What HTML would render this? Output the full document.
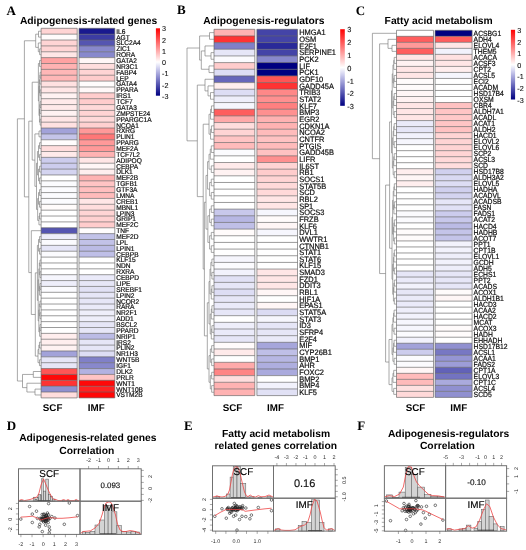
<!DOCTYPE html><html><head><meta charset="utf-8"><style>html,body{margin:0;padding:0;background:#fff;overflow:hidden}svg{display:block;will-change:transform}</style></head><body><svg width="526" height="550" viewBox="0 0 526 550" font-family="'Liberation Sans', sans-serif" text-rendering="geometricPrecision">
<rect width="526" height="550" fill="#fff"/>
<rect x="41.10" y="28.30" width="36.10" height="5.867" fill="#ffd4d4"/>
<rect x="79.00" y="28.30" width="35.80" height="5.867" fill="#19198f"/>
<rect x="41.10" y="34.17" width="36.10" height="5.867" fill="#fffbfb"/>
<rect x="79.00" y="34.17" width="35.80" height="5.867" fill="#3c3ca3"/>
<rect x="41.10" y="40.03" width="36.10" height="5.867" fill="#ffd4d4"/>
<rect x="79.00" y="40.03" width="35.80" height="5.867" fill="#5555b1"/>
<rect x="41.10" y="45.90" width="36.10" height="5.867" fill="#ffd4d4"/>
<rect x="79.00" y="45.90" width="35.80" height="5.867" fill="#8888cc"/>
<rect x="41.10" y="51.77" width="36.10" height="5.867" fill="#ffe6e6"/>
<rect x="79.00" y="51.77" width="35.80" height="5.867" fill="#8888cc"/>
<rect x="41.10" y="57.63" width="36.10" height="5.867" fill="#ffa2a2"/>
<rect x="79.00" y="57.63" width="35.80" height="5.867" fill="#fff6f6"/>
<rect x="41.10" y="63.50" width="36.10" height="5.867" fill="#ffb2b2"/>
<rect x="79.00" y="63.50" width="35.80" height="5.867" fill="#ffdddd"/>
<rect x="41.10" y="69.37" width="36.10" height="5.867" fill="#ffb7b7"/>
<rect x="79.00" y="69.37" width="35.80" height="5.867" fill="#ffd4d4"/>
<rect x="41.10" y="75.23" width="36.10" height="5.867" fill="#ffb7b7"/>
<rect x="79.00" y="75.23" width="35.80" height="5.867" fill="#ffcccc"/>
<rect x="41.10" y="81.10" width="36.10" height="5.867" fill="#ffe1e1"/>
<rect x="79.00" y="81.10" width="35.80" height="5.867" fill="#fffcfc"/>
<rect x="41.10" y="86.97" width="36.10" height="5.867" fill="#ffe6e6"/>
<rect x="79.00" y="86.97" width="35.80" height="5.867" fill="#fff8f8"/>
<rect x="41.10" y="92.83" width="36.10" height="5.867" fill="#fff2f2"/>
<rect x="79.00" y="92.83" width="35.80" height="5.867" fill="#ffcccc"/>
<rect x="41.10" y="98.70" width="36.10" height="5.867" fill="#ffeaea"/>
<rect x="79.00" y="98.70" width="35.80" height="5.867" fill="#ffcccc"/>
<rect x="41.10" y="104.57" width="36.10" height="5.867" fill="#ffeaea"/>
<rect x="79.00" y="104.57" width="35.80" height="5.867" fill="#ffd9d9"/>
<rect x="41.10" y="110.43" width="36.10" height="5.867" fill="#fff2f2"/>
<rect x="79.00" y="110.43" width="35.80" height="5.867" fill="#ffd4d4"/>
<rect x="41.10" y="116.30" width="36.10" height="5.867" fill="#ffe6e6"/>
<rect x="79.00" y="116.30" width="35.80" height="5.867" fill="#ffd9d9"/>
<rect x="41.10" y="122.17" width="36.10" height="5.867" fill="#ffe1e1"/>
<rect x="79.00" y="122.17" width="35.80" height="5.867" fill="#ffd0d0"/>
<rect x="41.10" y="128.03" width="36.10" height="5.867" fill="#a2a2d9"/>
<rect x="79.00" y="128.03" width="35.80" height="5.867" fill="#ff9999"/>
<rect x="41.10" y="133.90" width="36.10" height="5.867" fill="#c4c4e9"/>
<rect x="79.00" y="133.90" width="35.80" height="5.867" fill="#ff7777"/>
<rect x="41.10" y="139.77" width="36.10" height="5.867" fill="#fffdfd"/>
<rect x="79.00" y="139.77" width="35.80" height="5.867" fill="#ff9999"/>
<rect x="41.10" y="145.63" width="36.10" height="5.867" fill="#ffdddd"/>
<rect x="79.00" y="145.63" width="35.80" height="5.867" fill="#ff9999"/>
<rect x="41.10" y="151.50" width="36.10" height="5.867" fill="#ffeaea"/>
<rect x="79.00" y="151.50" width="35.80" height="5.867" fill="#ffb2b2"/>
<rect x="41.10" y="157.37" width="36.10" height="5.867" fill="#cccced"/>
<rect x="79.00" y="157.37" width="35.80" height="5.867" fill="#ffe6e6"/>
<rect x="41.10" y="163.23" width="36.10" height="5.867" fill="#cccced"/>
<rect x="79.00" y="163.23" width="35.80" height="5.867" fill="#fff6f6"/>
<rect x="41.10" y="169.10" width="36.10" height="5.867" fill="#d4d4f0"/>
<rect x="79.00" y="169.10" width="35.80" height="5.867" fill="#ffeeee"/>
<rect x="41.10" y="174.97" width="36.10" height="5.867" fill="#ffffff"/>
<rect x="79.00" y="174.97" width="35.80" height="5.867" fill="#ffb2b2"/>
<rect x="41.10" y="180.83" width="36.10" height="5.867" fill="#fbfbfe"/>
<rect x="79.00" y="180.83" width="35.80" height="5.867" fill="#ffc4c4"/>
<rect x="41.10" y="186.70" width="36.10" height="5.867" fill="#fbfbfe"/>
<rect x="79.00" y="186.70" width="35.80" height="5.867" fill="#ffbfbf"/>
<rect x="41.10" y="192.57" width="36.10" height="5.867" fill="#fbfbfe"/>
<rect x="79.00" y="192.57" width="35.80" height="5.867" fill="#ffbbbb"/>
<rect x="41.10" y="198.43" width="36.10" height="5.867" fill="#fbfbfe"/>
<rect x="79.00" y="198.43" width="35.80" height="5.867" fill="#ffe6e6"/>
<rect x="41.10" y="204.30" width="36.10" height="5.867" fill="#fffbfb"/>
<rect x="79.00" y="204.30" width="35.80" height="5.867" fill="#ffdddd"/>
<rect x="41.10" y="210.17" width="36.10" height="5.867" fill="#ffffff"/>
<rect x="79.00" y="210.17" width="35.80" height="5.867" fill="#ffd4d4"/>
<rect x="41.10" y="216.03" width="36.10" height="5.867" fill="#ffffff"/>
<rect x="79.00" y="216.03" width="35.80" height="5.867" fill="#ffd0d0"/>
<rect x="41.10" y="221.90" width="36.10" height="5.867" fill="#ffffff"/>
<rect x="79.00" y="221.90" width="35.80" height="5.867" fill="#ffcccc"/>
<rect x="41.10" y="227.77" width="36.10" height="5.867" fill="#5555b1"/>
<rect x="79.00" y="227.77" width="35.80" height="5.867" fill="#fffdfd"/>
<rect x="41.10" y="233.63" width="36.10" height="5.867" fill="#eeeefa"/>
<rect x="79.00" y="233.63" width="35.80" height="5.867" fill="#c2c2e8"/>
<rect x="41.10" y="239.50" width="36.10" height="5.867" fill="#fbfbfe"/>
<rect x="79.00" y="239.50" width="35.80" height="5.867" fill="#c2c2e8"/>
<rect x="41.10" y="245.37" width="36.10" height="5.867" fill="#e6e6f7"/>
<rect x="79.00" y="245.37" width="35.80" height="5.867" fill="#bbbbe5"/>
<rect x="41.10" y="251.23" width="36.10" height="5.867" fill="#fbfbfe"/>
<rect x="79.00" y="251.23" width="35.80" height="5.867" fill="#bfbfe7"/>
<rect x="41.10" y="257.10" width="36.10" height="5.867" fill="#ffffff"/>
<rect x="79.00" y="257.10" width="35.80" height="5.867" fill="#ffffff"/>
<rect x="41.10" y="262.97" width="36.10" height="5.867" fill="#ffffff"/>
<rect x="79.00" y="262.97" width="35.80" height="5.867" fill="#ffffff"/>
<rect x="41.10" y="268.83" width="36.10" height="5.867" fill="#ffffff"/>
<rect x="79.00" y="268.83" width="35.80" height="5.867" fill="#ffffff"/>
<rect x="41.10" y="274.70" width="36.10" height="5.867" fill="#f6f6fd"/>
<rect x="79.00" y="274.70" width="35.80" height="5.867" fill="#eaeaf9"/>
<rect x="41.10" y="280.57" width="36.10" height="5.867" fill="#eeeefa"/>
<rect x="79.00" y="280.57" width="35.80" height="5.867" fill="#e6e6f7"/>
<rect x="41.10" y="286.43" width="36.10" height="5.867" fill="#fbfbfe"/>
<rect x="79.00" y="286.43" width="35.80" height="5.867" fill="#e1e1f5"/>
<rect x="41.10" y="292.30" width="36.10" height="5.867" fill="#ffffff"/>
<rect x="79.00" y="292.30" width="35.80" height="5.867" fill="#e6e6f7"/>
<rect x="41.10" y="298.17" width="36.10" height="5.867" fill="#ffffff"/>
<rect x="79.00" y="298.17" width="35.80" height="5.867" fill="#e6e6f7"/>
<rect x="41.10" y="304.03" width="36.10" height="5.867" fill="#ffffff"/>
<rect x="79.00" y="304.03" width="35.80" height="5.867" fill="#eaeaf9"/>
<rect x="41.10" y="309.90" width="36.10" height="5.867" fill="#ffffff"/>
<rect x="79.00" y="309.90" width="35.80" height="5.867" fill="#eeeefa"/>
<rect x="41.10" y="315.77" width="36.10" height="5.867" fill="#ffffff"/>
<rect x="79.00" y="315.77" width="35.80" height="5.867" fill="#eeeefa"/>
<rect x="41.10" y="321.63" width="36.10" height="5.867" fill="#ffffff"/>
<rect x="79.00" y="321.63" width="35.80" height="5.867" fill="#e6e6f7"/>
<rect x="41.10" y="327.50" width="36.10" height="5.867" fill="#ffffff"/>
<rect x="79.00" y="327.50" width="35.80" height="5.867" fill="#e6e6f7"/>
<rect x="41.10" y="333.37" width="36.10" height="5.867" fill="#ffeeee"/>
<rect x="79.00" y="333.37" width="35.80" height="5.867" fill="#bbbbe5"/>
<rect x="41.10" y="339.23" width="36.10" height="5.867" fill="#ffeeee"/>
<rect x="79.00" y="339.23" width="35.80" height="5.867" fill="#e6e6f7"/>
<rect x="41.10" y="345.10" width="36.10" height="5.867" fill="#fff2f2"/>
<rect x="79.00" y="345.10" width="35.80" height="5.867" fill="#e6e6f7"/>
<rect x="41.10" y="350.97" width="36.10" height="5.867" fill="#a2a2d9"/>
<rect x="79.00" y="350.97" width="35.80" height="5.867" fill="#ddddf4"/>
<rect x="41.10" y="356.83" width="36.10" height="5.867" fill="#e6e6f7"/>
<rect x="79.00" y="356.83" width="35.80" height="5.867" fill="#8080c8"/>
<rect x="41.10" y="362.70" width="36.10" height="5.867" fill="#e6e6f7"/>
<rect x="79.00" y="362.70" width="35.80" height="5.867" fill="#8888cc"/>
<rect x="41.10" y="368.57" width="36.10" height="5.867" fill="#ff5555"/>
<rect x="79.00" y="368.57" width="35.80" height="5.867" fill="#b2b2e1"/>
<rect x="41.10" y="374.43" width="36.10" height="5.867" fill="#ff0808"/>
<rect x="79.00" y="374.43" width="35.80" height="5.867" fill="#ffc4c4"/>
<rect x="41.10" y="380.30" width="36.10" height="5.867" fill="#ff3333"/>
<rect x="79.00" y="380.30" width="35.80" height="5.867" fill="#ff0808"/>
<rect x="41.10" y="386.17" width="36.10" height="5.867" fill="#9090d0"/>
<rect x="79.00" y="386.17" width="35.80" height="5.867" fill="#ff2222"/>
<rect x="41.10" y="392.03" width="36.10" height="5.867" fill="#ffdddd"/>
<rect x="79.00" y="392.03" width="35.80" height="5.867" fill="#ff0808"/>
<path d="M41.10 28.30H77.20M79.00 28.30H114.80M41.10 34.17H77.20M79.00 34.17H114.80M41.10 40.03H77.20M79.00 40.03H114.80M41.10 45.90H77.20M79.00 45.90H114.80M41.10 51.77H77.20M79.00 51.77H114.80M41.10 57.63H77.20M79.00 57.63H114.80M41.10 63.50H77.20M79.00 63.50H114.80M41.10 69.37H77.20M79.00 69.37H114.80M41.10 75.23H77.20M79.00 75.23H114.80M41.10 81.10H77.20M79.00 81.10H114.80M41.10 86.97H77.20M79.00 86.97H114.80M41.10 92.83H77.20M79.00 92.83H114.80M41.10 98.70H77.20M79.00 98.70H114.80M41.10 104.57H77.20M79.00 104.57H114.80M41.10 110.43H77.20M79.00 110.43H114.80M41.10 116.30H77.20M79.00 116.30H114.80M41.10 122.17H77.20M79.00 122.17H114.80M41.10 128.03H77.20M79.00 128.03H114.80M41.10 133.90H77.20M79.00 133.90H114.80M41.10 139.77H77.20M79.00 139.77H114.80M41.10 145.63H77.20M79.00 145.63H114.80M41.10 151.50H77.20M79.00 151.50H114.80M41.10 157.37H77.20M79.00 157.37H114.80M41.10 163.23H77.20M79.00 163.23H114.80M41.10 169.10H77.20M79.00 169.10H114.80M41.10 174.97H77.20M79.00 174.97H114.80M41.10 180.83H77.20M79.00 180.83H114.80M41.10 186.70H77.20M79.00 186.70H114.80M41.10 192.57H77.20M79.00 192.57H114.80M41.10 198.43H77.20M79.00 198.43H114.80M41.10 204.30H77.20M79.00 204.30H114.80M41.10 210.17H77.20M79.00 210.17H114.80M41.10 216.03H77.20M79.00 216.03H114.80M41.10 221.90H77.20M79.00 221.90H114.80M41.10 227.77H77.20M79.00 227.77H114.80M41.10 233.63H77.20M79.00 233.63H114.80M41.10 239.50H77.20M79.00 239.50H114.80M41.10 245.37H77.20M79.00 245.37H114.80M41.10 251.23H77.20M79.00 251.23H114.80M41.10 257.10H77.20M79.00 257.10H114.80M41.10 262.97H77.20M79.00 262.97H114.80M41.10 268.83H77.20M79.00 268.83H114.80M41.10 274.70H77.20M79.00 274.70H114.80M41.10 280.57H77.20M79.00 280.57H114.80M41.10 286.43H77.20M79.00 286.43H114.80M41.10 292.30H77.20M79.00 292.30H114.80M41.10 298.17H77.20M79.00 298.17H114.80M41.10 304.03H77.20M79.00 304.03H114.80M41.10 309.90H77.20M79.00 309.90H114.80M41.10 315.77H77.20M79.00 315.77H114.80M41.10 321.63H77.20M79.00 321.63H114.80M41.10 327.50H77.20M79.00 327.50H114.80M41.10 333.37H77.20M79.00 333.37H114.80M41.10 339.23H77.20M79.00 339.23H114.80M41.10 345.10H77.20M79.00 345.10H114.80M41.10 350.97H77.20M79.00 350.97H114.80M41.10 356.83H77.20M79.00 356.83H114.80M41.10 362.70H77.20M79.00 362.70H114.80M41.10 368.57H77.20M79.00 368.57H114.80M41.10 374.43H77.20M79.00 374.43H114.80M41.10 380.30H77.20M79.00 380.30H114.80M41.10 386.17H77.20M79.00 386.17H114.80M41.10 392.03H77.20M79.00 392.03H114.80M41.10 397.90H77.20M79.00 397.90H114.80M41.10 28.30V397.90M77.20 28.30V397.90M79.00 28.30V397.90M114.80 28.30V397.90" stroke="#606060" stroke-opacity="0.7" stroke-width="0.9" fill="none"/>
<text x="0" y="0" transform="translate(116.20 33.66) scale(1 1.05)" font-size="6.6" font-weight="normal" text-anchor="start" fill="#111" stroke="#111" stroke-width="0.2" >IL6</text>
<text x="0" y="0" transform="translate(116.20 39.53) scale(1 1.05)" font-size="6.6" font-weight="normal" text-anchor="start" fill="#111" stroke="#111" stroke-width="0.2" >AGT</text>
<text x="0" y="0" transform="translate(116.20 45.39) scale(1 1.05)" font-size="6.6" font-weight="normal" text-anchor="start" fill="#111" stroke="#111" stroke-width="0.2" >SLC2A4</text>
<text x="0" y="0" transform="translate(116.20 51.26) scale(1 1.05)" font-size="6.6" font-weight="normal" text-anchor="start" fill="#111" stroke="#111" stroke-width="0.2" >ZIC1</text>
<text x="0" y="0" transform="translate(116.20 57.13) scale(1 1.05)" font-size="6.6" font-weight="normal" text-anchor="start" fill="#111" stroke="#111" stroke-width="0.2" >RORA</text>
<text x="0" y="0" transform="translate(116.20 62.99) scale(1 1.05)" font-size="6.6" font-weight="normal" text-anchor="start" fill="#111" stroke="#111" stroke-width="0.2" >GATA2</text>
<text x="0" y="0" transform="translate(116.20 68.86) scale(1 1.05)" font-size="6.6" font-weight="normal" text-anchor="start" fill="#111" stroke="#111" stroke-width="0.2" >NR3C1</text>
<text x="0" y="0" transform="translate(116.20 74.73) scale(1 1.05)" font-size="6.6" font-weight="normal" text-anchor="start" fill="#111" stroke="#111" stroke-width="0.2" >FABP4</text>
<text x="0" y="0" transform="translate(116.20 80.59) scale(1 1.05)" font-size="6.6" font-weight="normal" text-anchor="start" fill="#111" stroke="#111" stroke-width="0.2" >LEP</text>
<text x="0" y="0" transform="translate(116.20 86.46) scale(1 1.05)" font-size="6.6" font-weight="normal" text-anchor="start" fill="#111" stroke="#111" stroke-width="0.2" >GATA4</text>
<text x="0" y="0" transform="translate(116.20 92.33) scale(1 1.05)" font-size="6.6" font-weight="normal" text-anchor="start" fill="#111" stroke="#111" stroke-width="0.2" >PPARA</text>
<text x="0" y="0" transform="translate(116.20 98.19) scale(1 1.05)" font-size="6.6" font-weight="normal" text-anchor="start" fill="#111" stroke="#111" stroke-width="0.2" >IRS1</text>
<text x="0" y="0" transform="translate(116.20 104.06) scale(1 1.05)" font-size="6.6" font-weight="normal" text-anchor="start" fill="#111" stroke="#111" stroke-width="0.2" >TCF7</text>
<text x="0" y="0" transform="translate(116.20 109.93) scale(1 1.05)" font-size="6.6" font-weight="normal" text-anchor="start" fill="#111" stroke="#111" stroke-width="0.2" >GATA3</text>
<text x="0" y="0" transform="translate(116.20 115.79) scale(1 1.05)" font-size="6.6" font-weight="normal" text-anchor="start" fill="#111" stroke="#111" stroke-width="0.2" >ZMPSTE24</text>
<text x="0" y="0" transform="translate(116.20 121.66) scale(1 1.05)" font-size="6.6" font-weight="normal" text-anchor="start" fill="#111" stroke="#111" stroke-width="0.2" >PPARGC1A</text>
<text x="0" y="0" transform="translate(116.20 127.53) scale(1 1.05)" font-size="6.6" font-weight="normal" text-anchor="start" fill="#111" stroke="#111" stroke-width="0.2" >NCOA1</text>
<text x="0" y="0" transform="translate(116.20 133.39) scale(1 1.05)" font-size="6.6" font-weight="normal" text-anchor="start" fill="#111" stroke="#111" stroke-width="0.2" >RXRG</text>
<text x="0" y="0" transform="translate(116.20 139.26) scale(1 1.05)" font-size="6.6" font-weight="normal" text-anchor="start" fill="#111" stroke="#111" stroke-width="0.2" >PLIN1</text>
<text x="0" y="0" transform="translate(116.20 145.13) scale(1 1.05)" font-size="6.6" font-weight="normal" text-anchor="start" fill="#111" stroke="#111" stroke-width="0.2" >PPARG</text>
<text x="0" y="0" transform="translate(116.20 150.99) scale(1 1.05)" font-size="6.6" font-weight="normal" text-anchor="start" fill="#111" stroke="#111" stroke-width="0.2" >MEF2A</text>
<text x="0" y="0" transform="translate(116.20 156.86) scale(1 1.05)" font-size="6.6" font-weight="normal" text-anchor="start" fill="#111" stroke="#111" stroke-width="0.2" >TCF7L2</text>
<text x="0" y="0" transform="translate(116.20 162.73) scale(1 1.05)" font-size="6.6" font-weight="normal" text-anchor="start" fill="#111" stroke="#111" stroke-width="0.2" >ADIPOQ</text>
<text x="0" y="0" transform="translate(116.20 168.59) scale(1 1.05)" font-size="6.6" font-weight="normal" text-anchor="start" fill="#111" stroke="#111" stroke-width="0.2" >CEBPA</text>
<text x="0" y="0" transform="translate(116.20 174.46) scale(1 1.05)" font-size="6.6" font-weight="normal" text-anchor="start" fill="#111" stroke="#111" stroke-width="0.2" >DLK1</text>
<text x="0" y="0" transform="translate(116.20 180.33) scale(1 1.05)" font-size="6.6" font-weight="normal" text-anchor="start" fill="#111" stroke="#111" stroke-width="0.2" >MEF2B</text>
<text x="0" y="0" transform="translate(116.20 186.19) scale(1 1.05)" font-size="6.6" font-weight="normal" text-anchor="start" fill="#111" stroke="#111" stroke-width="0.2" >TGFB1</text>
<text x="0" y="0" transform="translate(116.20 192.06) scale(1 1.05)" font-size="6.6" font-weight="normal" text-anchor="start" fill="#111" stroke="#111" stroke-width="0.2" >GTF3A</text>
<text x="0" y="0" transform="translate(116.20 197.93) scale(1 1.05)" font-size="6.6" font-weight="normal" text-anchor="start" fill="#111" stroke="#111" stroke-width="0.2" >LMNA</text>
<text x="0" y="0" transform="translate(116.20 203.79) scale(1 1.05)" font-size="6.6" font-weight="normal" text-anchor="start" fill="#111" stroke="#111" stroke-width="0.2" >CREB1</text>
<text x="0" y="0" transform="translate(116.20 209.66) scale(1 1.05)" font-size="6.6" font-weight="normal" text-anchor="start" fill="#111" stroke="#111" stroke-width="0.2" >MBNL1</text>
<text x="0" y="0" transform="translate(116.20 215.53) scale(1 1.05)" font-size="6.6" font-weight="normal" text-anchor="start" fill="#111" stroke="#111" stroke-width="0.2" >LPIN3</text>
<text x="0" y="0" transform="translate(116.20 221.39) scale(1 1.05)" font-size="6.6" font-weight="normal" text-anchor="start" fill="#111" stroke="#111" stroke-width="0.2" >GRIP1</text>
<text x="0" y="0" transform="translate(116.20 227.26) scale(1 1.05)" font-size="6.6" font-weight="normal" text-anchor="start" fill="#111" stroke="#111" stroke-width="0.2" >MEF2C</text>
<text x="0" y="0" transform="translate(116.20 233.13) scale(1 1.05)" font-size="6.6" font-weight="normal" text-anchor="start" fill="#111" stroke="#111" stroke-width="0.2" >TNF</text>
<text x="0" y="0" transform="translate(116.20 238.99) scale(1 1.05)" font-size="6.6" font-weight="normal" text-anchor="start" fill="#111" stroke="#111" stroke-width="0.2" >MEF2D</text>
<text x="0" y="0" transform="translate(116.20 244.86) scale(1 1.05)" font-size="6.6" font-weight="normal" text-anchor="start" fill="#111" stroke="#111" stroke-width="0.2" >LPL</text>
<text x="0" y="0" transform="translate(116.20 250.73) scale(1 1.05)" font-size="6.6" font-weight="normal" text-anchor="start" fill="#111" stroke="#111" stroke-width="0.2" >LPIN1</text>
<text x="0" y="0" transform="translate(116.20 256.59) scale(1 1.05)" font-size="6.6" font-weight="normal" text-anchor="start" fill="#111" stroke="#111" stroke-width="0.2" >CEBPB</text>
<text x="0" y="0" transform="translate(116.20 262.46) scale(1 1.05)" font-size="6.6" font-weight="normal" text-anchor="start" fill="#111" stroke="#111" stroke-width="0.2" >KLF15</text>
<text x="0" y="0" transform="translate(116.20 268.33) scale(1 1.05)" font-size="6.6" font-weight="normal" text-anchor="start" fill="#111" stroke="#111" stroke-width="0.2" >NDN</text>
<text x="0" y="0" transform="translate(116.20 274.19) scale(1 1.05)" font-size="6.6" font-weight="normal" text-anchor="start" fill="#111" stroke="#111" stroke-width="0.2" >RXRA</text>
<text x="0" y="0" transform="translate(116.20 280.06) scale(1 1.05)" font-size="6.6" font-weight="normal" text-anchor="start" fill="#111" stroke="#111" stroke-width="0.2" >CEBPD</text>
<text x="0" y="0" transform="translate(116.20 285.93) scale(1 1.05)" font-size="6.6" font-weight="normal" text-anchor="start" fill="#111" stroke="#111" stroke-width="0.2" >LIPE</text>
<text x="0" y="0" transform="translate(116.20 291.79) scale(1 1.05)" font-size="6.6" font-weight="normal" text-anchor="start" fill="#111" stroke="#111" stroke-width="0.2" >SREBF1</text>
<text x="0" y="0" transform="translate(116.20 297.66) scale(1 1.05)" font-size="6.6" font-weight="normal" text-anchor="start" fill="#111" stroke="#111" stroke-width="0.2" >LPIN2</text>
<text x="0" y="0" transform="translate(116.20 303.53) scale(1 1.05)" font-size="6.6" font-weight="normal" text-anchor="start" fill="#111" stroke="#111" stroke-width="0.2" >NCOR2</text>
<text x="0" y="0" transform="translate(116.20 309.39) scale(1 1.05)" font-size="6.6" font-weight="normal" text-anchor="start" fill="#111" stroke="#111" stroke-width="0.2" >RARA</text>
<text x="0" y="0" transform="translate(116.20 315.26) scale(1 1.05)" font-size="6.6" font-weight="normal" text-anchor="start" fill="#111" stroke="#111" stroke-width="0.2" >NR2F1</text>
<text x="0" y="0" transform="translate(116.20 321.13) scale(1 1.05)" font-size="6.6" font-weight="normal" text-anchor="start" fill="#111" stroke="#111" stroke-width="0.2" >ADD1</text>
<text x="0" y="0" transform="translate(116.20 326.99) scale(1 1.05)" font-size="6.6" font-weight="normal" text-anchor="start" fill="#111" stroke="#111" stroke-width="0.2" >BSCL2</text>
<text x="0" y="0" transform="translate(116.20 332.86) scale(1 1.05)" font-size="6.6" font-weight="normal" text-anchor="start" fill="#111" stroke="#111" stroke-width="0.2" >PPARD</text>
<text x="0" y="0" transform="translate(116.20 338.73) scale(1 1.05)" font-size="6.6" font-weight="normal" text-anchor="start" fill="#111" stroke="#111" stroke-width="0.2" >NRIP1</text>
<text x="0" y="0" transform="translate(116.20 344.59) scale(1 1.05)" font-size="6.6" font-weight="normal" text-anchor="start" fill="#111" stroke="#111" stroke-width="0.2" >IRS2</text>
<text x="0" y="0" transform="translate(116.20 350.46) scale(1 1.05)" font-size="6.6" font-weight="normal" text-anchor="start" fill="#111" stroke="#111" stroke-width="0.2" >PLIN2</text>
<text x="0" y="0" transform="translate(116.20 356.33) scale(1 1.05)" font-size="6.6" font-weight="normal" text-anchor="start" fill="#111" stroke="#111" stroke-width="0.2" >NR1H3</text>
<text x="0" y="0" transform="translate(116.20 362.19) scale(1 1.05)" font-size="6.6" font-weight="normal" text-anchor="start" fill="#111" stroke="#111" stroke-width="0.2" >WNT5B</text>
<text x="0" y="0" transform="translate(116.20 368.06) scale(1 1.05)" font-size="6.6" font-weight="normal" text-anchor="start" fill="#111" stroke="#111" stroke-width="0.2" >IGF1</text>
<text x="0" y="0" transform="translate(116.20 373.93) scale(1 1.05)" font-size="6.6" font-weight="normal" text-anchor="start" fill="#111" stroke="#111" stroke-width="0.2" >DLK2</text>
<text x="0" y="0" transform="translate(116.20 379.79) scale(1 1.05)" font-size="6.6" font-weight="normal" text-anchor="start" fill="#111" stroke="#111" stroke-width="0.2" >PRLR</text>
<text x="0" y="0" transform="translate(116.20 385.66) scale(1 1.05)" font-size="6.6" font-weight="normal" text-anchor="start" fill="#111" stroke="#111" stroke-width="0.2" >WNT1</text>
<text x="0" y="0" transform="translate(116.20 391.53) scale(1 1.05)" font-size="6.6" font-weight="normal" text-anchor="start" fill="#111" stroke="#111" stroke-width="0.2" >WNT10B</text>
<text x="0" y="0" transform="translate(116.20 397.39) scale(1 1.05)" font-size="6.6" font-weight="normal" text-anchor="start" fill="#111" stroke="#111" stroke-width="0.2" >VSTM2B</text>
<path d="M38.50 31.23L38.50 37.10M38.50 31.23L41.10 31.23M38.50 37.10L41.10 37.10M39.60 48.83L39.60 54.70M39.60 48.83L41.10 48.83M39.60 54.70L41.10 54.70M38.30 42.97L38.30 51.77M38.30 42.97L41.10 42.97M38.30 51.77L39.60 51.77M35.70 34.17L35.70 47.37M35.70 34.17L38.50 34.17M35.70 47.37L38.30 47.37M39.50 60.57L39.50 66.43M39.50 60.57L41.10 60.57M39.50 66.43L41.10 66.43M40.12 72.30L40.12 78.17M40.12 72.30L41.10 72.30M40.12 78.17L41.10 78.17M39.84 75.23L39.84 84.03M39.84 75.23L40.12 75.23M39.84 84.03L41.10 84.03M40.12 89.90L40.12 95.77M40.12 89.90L41.10 89.90M40.12 95.77L41.10 95.77M39.48 79.63L39.48 92.83M39.48 79.63L39.84 79.63M39.48 92.83L40.12 92.83M40.12 101.63L40.12 107.50M40.12 101.63L41.10 101.63M40.12 107.50L41.10 107.50M39.84 104.57L39.84 113.37M39.84 104.57L40.12 104.57M39.84 113.37L41.10 113.37M40.12 119.23L40.12 125.10M40.12 119.23L41.10 119.23M40.12 125.10L41.10 125.10M39.48 108.97L39.48 122.17M39.48 108.97L39.84 108.97M39.48 122.17L40.12 122.17M39.00 86.23L39.00 115.57M39.00 86.23L39.48 86.23M39.00 115.57L39.48 115.57M38.40 63.50L38.40 100.90M38.40 63.50L39.50 63.50M38.40 100.90L39.00 100.90M39.00 130.97L39.00 136.83M39.00 130.97L41.10 130.97M39.00 136.83L41.10 136.83M39.55 142.70L39.55 148.57M39.55 142.70L41.10 142.70M39.55 148.57L41.10 148.57M39.55 154.43L39.55 160.30M39.55 154.43L41.10 154.43M39.55 160.30L41.10 160.30M38.50 145.63L38.50 157.37M38.50 145.63L39.55 145.63M38.50 157.37L39.55 157.37M39.55 166.17L39.55 172.03M39.55 166.17L41.10 166.17M39.55 172.03L41.10 172.03M39.55 177.90L39.55 183.77M39.55 177.90L41.10 177.90M39.55 183.77L41.10 183.77M38.50 169.10L38.50 180.83M38.50 169.10L39.55 169.10M38.50 180.83L39.55 180.83M37.45 151.50L37.45 174.97M37.45 151.50L38.50 151.50M37.45 174.97L38.50 174.97M39.55 189.63L39.55 195.50M39.55 189.63L41.10 189.63M39.55 195.50L41.10 195.50M39.55 201.37L39.55 207.23M39.55 201.37L41.10 201.37M39.55 207.23L41.10 207.23M38.50 192.57L38.50 204.30M38.50 192.57L39.55 192.57M38.50 204.30L39.55 204.30M39.55 213.10L39.55 218.97M39.55 213.10L41.10 213.10M39.55 218.97L41.10 218.97M38.94 216.03L38.94 224.83M38.94 216.03L39.55 216.03M38.94 224.83L41.10 224.83M37.65 198.43L37.65 220.43M37.65 198.43L38.50 198.43M37.65 220.43L38.94 220.43M36.50 163.23L36.50 209.43M36.50 163.23L37.45 163.23M36.50 209.43L37.65 209.43M34.90 133.90L34.90 186.33M34.90 133.90L39.00 133.90M34.90 186.33L36.50 186.33M32.20 82.20L32.20 160.12M32.20 82.20L38.40 82.20M32.20 160.12L34.90 160.12M39.55 236.57L39.55 242.43M39.55 236.57L41.10 236.57M39.55 242.43L41.10 242.43M39.55 248.30L39.55 254.17M39.55 248.30L41.10 248.30M39.55 254.17L41.10 254.17M38.50 239.50L38.50 251.23M38.50 239.50L39.55 239.50M38.50 251.23L39.55 251.23M39.97 260.03L39.97 265.90M39.97 260.03L41.10 260.03M39.97 265.90L41.10 265.90M39.97 271.77L39.97 277.63M39.97 271.77L41.10 271.77M39.97 277.63L41.10 277.63M39.34 262.97L39.34 274.70M39.34 262.97L39.97 262.97M39.34 274.70L39.97 274.70M39.97 283.50L39.97 289.37M39.97 283.50L41.10 283.50M39.97 289.37L41.10 289.37M39.60 286.43L39.60 295.23M39.60 286.43L39.97 286.43M39.60 295.23L41.10 295.23M38.83 268.83L38.83 290.83M38.83 268.83L39.34 268.83M38.83 290.83L39.60 290.83M39.97 301.10L39.97 306.97M39.97 301.10L41.10 301.10M39.97 306.97L41.10 306.97M39.97 312.83L39.97 318.70M39.97 312.83L41.10 312.83M39.97 318.70L41.10 318.70M39.34 304.03L39.34 315.77M39.34 304.03L39.97 304.03M39.34 315.77L39.97 315.77M39.97 324.57L39.97 330.43M39.97 324.57L41.10 324.57M39.97 330.43L41.10 330.43M39.60 327.50L39.60 336.30M39.60 327.50L39.97 327.50M39.60 336.30L41.10 336.30M38.83 309.90L38.83 331.90M38.83 309.90L39.34 309.90M38.83 331.90L39.60 331.90M38.20 279.83L38.20 320.90M38.20 279.83L38.83 279.83M38.20 320.90L38.83 320.90M37.40 245.37L37.40 300.37M37.40 245.37L38.50 245.37M37.40 300.37L38.20 300.37M39.48 342.17L39.48 348.03M39.48 342.17L41.10 342.17M39.48 348.03L41.10 348.03M38.83 345.10L38.83 353.90M38.83 345.10L39.48 345.10M38.83 353.90L41.10 353.90M39.48 359.77L39.48 365.63M39.48 359.77L41.10 359.77M39.48 365.63L41.10 365.63M38.00 349.50L38.00 362.70M38.00 349.50L38.83 349.50M38.00 362.70L39.48 362.70M35.30 272.87L35.30 356.10M35.30 272.87L37.40 272.87M35.30 356.10L38.00 356.10M31.30 230.70L31.30 314.48M31.30 230.70L41.10 230.70M31.30 314.48L35.30 314.48M28.80 121.16L28.80 272.59M28.80 121.16L32.20 121.16M28.80 272.59L31.30 272.59M24.40 40.77L24.40 196.88M24.40 40.77L35.70 40.77M24.40 196.88L28.80 196.88M33.30 371.50L33.30 377.37M33.30 371.50L41.10 371.50M33.30 377.37L41.10 377.37M35.00 389.10L35.00 394.97M35.00 389.10L41.10 389.10M35.00 394.97L41.10 394.97M26.90 383.23L26.90 392.03M26.90 383.23L41.10 383.23M26.90 392.03L35.00 392.03M22.50 374.43L22.50 387.63M22.50 374.43L33.30 374.43M22.50 387.63L26.90 387.63M17.40 118.82L17.40 381.03M17.40 118.82L24.40 118.82M17.40 381.03L22.50 381.03" stroke="#7a7a7a" stroke-width="0.65" fill="none"/>
<defs><linearGradient id="gA" x1="0" y1="0" x2="0" y2="1"><stop offset="0" stop-color="#ff0000"/><stop offset="0.5" stop-color="#ffffff"/><stop offset="0.55" stop-color="#e6e6f7"/><stop offset="0.60" stop-color="#cccced"/><stop offset="0.65" stop-color="#b2b2e1"/><stop offset="0.70" stop-color="#9999d5"/><stop offset="0.75" stop-color="#8080c8"/><stop offset="0.80" stop-color="#6666ba"/><stop offset="0.85" stop-color="#4c4cac"/><stop offset="0.90" stop-color="#33339e"/><stop offset="0.95" stop-color="#19198f"/><stop offset="1.00" stop-color="#000080"/></linearGradient></defs>
<rect x="155.9" y="28.3" width="4.1" height="67.4" fill="url(#gA)"/>
<text x="162.00" y="31.49" font-size="7.2" font-weight="normal" text-anchor="start" fill="#111" stroke="#111" stroke-width="0.1" >3</text>
<text x="162.00" y="42.73" font-size="7.2" font-weight="normal" text-anchor="start" fill="#111" stroke="#111" stroke-width="0.1" >2</text>
<text x="162.00" y="53.96" font-size="7.2" font-weight="normal" text-anchor="start" fill="#111" stroke="#111" stroke-width="0.1" >1</text>
<text x="162.00" y="65.19" font-size="7.2" font-weight="normal" text-anchor="start" fill="#111" stroke="#111" stroke-width="0.1" >0</text>
<text x="162.00" y="76.43" font-size="7.2" font-weight="normal" text-anchor="start" fill="#111" stroke="#111" stroke-width="0.1" >-1</text>
<text x="162.00" y="87.66" font-size="7.2" font-weight="normal" text-anchor="start" fill="#111" stroke="#111" stroke-width="0.1" >-2</text>
<text x="162.00" y="98.89" font-size="7.2" font-weight="normal" text-anchor="start" fill="#111" stroke="#111" stroke-width="0.1" >-3</text>
<rect x="214.00" y="29.30" width="40.80" height="6.660" fill="#ffb2b2"/>
<rect x="256.90" y="29.30" width="40.60" height="6.660" fill="#4444a7"/>
<rect x="214.00" y="35.96" width="40.80" height="6.660" fill="#ff3333"/>
<rect x="256.90" y="35.96" width="40.60" height="6.660" fill="#4444a7"/>
<rect x="214.00" y="42.62" width="40.80" height="6.660" fill="#8080c8"/>
<rect x="256.90" y="42.62" width="40.60" height="6.660" fill="#2a2a99"/>
<rect x="214.00" y="49.28" width="40.80" height="6.660" fill="#e6e6f7"/>
<rect x="256.90" y="49.28" width="40.60" height="6.660" fill="#4444a7"/>
<rect x="214.00" y="55.94" width="40.80" height="6.660" fill="#fbfbfe"/>
<rect x="256.90" y="55.94" width="40.60" height="6.660" fill="#8888cc"/>
<rect x="214.00" y="62.60" width="40.80" height="6.660" fill="#ffcccc"/>
<rect x="256.90" y="62.60" width="40.60" height="6.660" fill="#000080"/>
<rect x="214.00" y="69.26" width="40.80" height="6.660" fill="#ddddf4"/>
<rect x="256.90" y="69.26" width="40.60" height="6.660" fill="#000080"/>
<rect x="214.00" y="75.92" width="40.80" height="6.660" fill="#6666ba"/>
<rect x="256.90" y="75.92" width="40.60" height="6.660" fill="#ff5555"/>
<rect x="214.00" y="82.58" width="40.80" height="6.660" fill="#ffeeee"/>
<rect x="256.90" y="82.58" width="40.60" height="6.660" fill="#ff3333"/>
<rect x="214.00" y="89.24" width="40.80" height="6.660" fill="#ddddf4"/>
<rect x="256.90" y="89.24" width="40.60" height="6.660" fill="#ff8888"/>
<rect x="214.00" y="95.90" width="40.80" height="6.660" fill="#eeeefa"/>
<rect x="256.90" y="95.90" width="40.60" height="6.660" fill="#ff9090"/>
<rect x="214.00" y="102.56" width="40.80" height="6.660" fill="#f6f6fd"/>
<rect x="256.90" y="102.56" width="40.60" height="6.660" fill="#ff8080"/>
<rect x="214.00" y="109.22" width="40.80" height="6.660" fill="#ff5e5e"/>
<rect x="256.90" y="109.22" width="40.60" height="6.660" fill="#ff9090"/>
<rect x="214.00" y="115.88" width="40.80" height="6.660" fill="#ffaaaa"/>
<rect x="256.90" y="115.88" width="40.60" height="6.660" fill="#ffb2b2"/>
<rect x="214.00" y="122.54" width="40.80" height="6.660" fill="#ffdddd"/>
<rect x="256.90" y="122.54" width="40.60" height="6.660" fill="#ffb2b2"/>
<rect x="214.00" y="129.20" width="40.80" height="6.660" fill="#ffd4d4"/>
<rect x="256.90" y="129.20" width="40.60" height="6.660" fill="#ffbbbb"/>
<rect x="214.00" y="135.86" width="40.80" height="6.660" fill="#ffc4c4"/>
<rect x="256.90" y="135.86" width="40.60" height="6.660" fill="#ffc2c2"/>
<rect x="214.00" y="142.52" width="40.80" height="6.660" fill="#ffbbbb"/>
<rect x="256.90" y="142.52" width="40.60" height="6.660" fill="#ffbbbb"/>
<rect x="214.00" y="149.18" width="40.80" height="6.660" fill="#fbfbfe"/>
<rect x="256.90" y="149.18" width="40.60" height="6.660" fill="#ffc2c2"/>
<rect x="214.00" y="155.84" width="40.80" height="6.660" fill="#ffffff"/>
<rect x="256.90" y="155.84" width="40.60" height="6.660" fill="#ff9090"/>
<rect x="214.00" y="162.50" width="40.80" height="6.660" fill="#ffeaea"/>
<rect x="256.90" y="162.50" width="40.60" height="6.660" fill="#ffd4d4"/>
<rect x="214.00" y="169.16" width="40.80" height="6.660" fill="#fff2f2"/>
<rect x="256.90" y="169.16" width="40.60" height="6.660" fill="#ffcccc"/>
<rect x="214.00" y="175.82" width="40.80" height="6.660" fill="#ffffff"/>
<rect x="256.90" y="175.82" width="40.60" height="6.660" fill="#ffd4d4"/>
<rect x="214.00" y="182.48" width="40.80" height="6.660" fill="#ffffff"/>
<rect x="256.90" y="182.48" width="40.60" height="6.660" fill="#ffd9d9"/>
<rect x="214.00" y="189.14" width="40.80" height="6.660" fill="#ffffff"/>
<rect x="256.90" y="189.14" width="40.60" height="6.660" fill="#ffd9d9"/>
<rect x="214.00" y="195.80" width="40.80" height="6.660" fill="#ffffff"/>
<rect x="256.90" y="195.80" width="40.60" height="6.660" fill="#ffe6e6"/>
<rect x="214.00" y="202.46" width="40.80" height="6.660" fill="#ffffff"/>
<rect x="256.90" y="202.46" width="40.60" height="6.660" fill="#ffe6e6"/>
<rect x="214.00" y="209.12" width="40.80" height="6.660" fill="#c8c8eb"/>
<rect x="256.90" y="209.12" width="40.60" height="6.660" fill="#f6f6fd"/>
<rect x="214.00" y="215.78" width="40.80" height="6.660" fill="#b7b7e3"/>
<rect x="256.90" y="215.78" width="40.60" height="6.660" fill="#fffbfb"/>
<rect x="214.00" y="222.44" width="40.80" height="6.660" fill="#bfbfe7"/>
<rect x="256.90" y="222.44" width="40.60" height="6.660" fill="#fff6f6"/>
<rect x="214.00" y="229.10" width="40.80" height="6.660" fill="#fffbfb"/>
<rect x="256.90" y="229.10" width="40.60" height="6.660" fill="#f6f6fd"/>
<rect x="214.00" y="235.76" width="40.80" height="6.660" fill="#ffffff"/>
<rect x="256.90" y="235.76" width="40.60" height="6.660" fill="#ffffff"/>
<rect x="214.00" y="242.42" width="40.80" height="6.660" fill="#ffffff"/>
<rect x="256.90" y="242.42" width="40.60" height="6.660" fill="#ffffff"/>
<rect x="214.00" y="249.08" width="40.80" height="6.660" fill="#ffffff"/>
<rect x="256.90" y="249.08" width="40.60" height="6.660" fill="#ffffff"/>
<rect x="214.00" y="255.74" width="40.80" height="6.660" fill="#f6f6fd"/>
<rect x="256.90" y="255.74" width="40.60" height="6.660" fill="#ffffff"/>
<rect x="214.00" y="262.40" width="40.80" height="6.660" fill="#fbfbfe"/>
<rect x="256.90" y="262.40" width="40.60" height="6.660" fill="#ffffff"/>
<rect x="214.00" y="269.06" width="40.80" height="6.660" fill="#f2f2fc"/>
<rect x="256.90" y="269.06" width="40.60" height="6.660" fill="#ffe6e6"/>
<rect x="214.00" y="275.72" width="40.80" height="6.660" fill="#e1e1f5"/>
<rect x="256.90" y="275.72" width="40.60" height="6.660" fill="#ffe6e6"/>
<rect x="214.00" y="282.38" width="40.80" height="6.660" fill="#e6e6f7"/>
<rect x="256.90" y="282.38" width="40.60" height="6.660" fill="#ffe6e6"/>
<rect x="214.00" y="289.04" width="40.80" height="6.660" fill="#ddddf4"/>
<rect x="256.90" y="289.04" width="40.60" height="6.660" fill="#fff6f6"/>
<rect x="214.00" y="295.70" width="40.80" height="6.660" fill="#e6e6f7"/>
<rect x="256.90" y="295.70" width="40.60" height="6.660" fill="#ffffff"/>
<rect x="214.00" y="302.36" width="40.80" height="6.660" fill="#eaeaf9"/>
<rect x="256.90" y="302.36" width="40.60" height="6.660" fill="#fff6f6"/>
<rect x="214.00" y="309.02" width="40.80" height="6.660" fill="#e6e6f7"/>
<rect x="256.90" y="309.02" width="40.60" height="6.660" fill="#dbdbf3"/>
<rect x="214.00" y="315.68" width="40.80" height="6.660" fill="#ffffff"/>
<rect x="256.90" y="315.68" width="40.60" height="6.660" fill="#f6f6fd"/>
<rect x="214.00" y="322.34" width="40.80" height="6.660" fill="#eeeefa"/>
<rect x="256.90" y="322.34" width="40.60" height="6.660" fill="#e6e6f7"/>
<rect x="214.00" y="329.00" width="40.80" height="6.660" fill="#eaeaf9"/>
<rect x="256.90" y="329.00" width="40.60" height="6.660" fill="#e6e6f7"/>
<rect x="214.00" y="335.66" width="40.80" height="6.660" fill="#e6e6f7"/>
<rect x="256.90" y="335.66" width="40.60" height="6.660" fill="#eaeaf9"/>
<rect x="214.00" y="342.32" width="40.80" height="6.660" fill="#fffbfb"/>
<rect x="256.90" y="342.32" width="40.60" height="6.660" fill="#a6a6db"/>
<rect x="214.00" y="348.98" width="40.80" height="6.660" fill="#ffeaea"/>
<rect x="256.90" y="348.98" width="40.60" height="6.660" fill="#bfbfe7"/>
<rect x="214.00" y="355.64" width="40.80" height="6.660" fill="#ffffff"/>
<rect x="256.90" y="355.64" width="40.60" height="6.660" fill="#b7b7e3"/>
<rect x="214.00" y="362.30" width="40.80" height="6.660" fill="#ffaaaa"/>
<rect x="256.90" y="362.30" width="40.60" height="6.660" fill="#aeaedf"/>
<rect x="214.00" y="368.96" width="40.80" height="6.660" fill="#ff8484"/>
<rect x="256.90" y="368.96" width="40.60" height="6.660" fill="#aaaadd"/>
<rect x="214.00" y="375.62" width="40.80" height="6.660" fill="#ffdddd"/>
<rect x="256.90" y="375.62" width="40.60" height="6.660" fill="#ffffff"/>
<rect x="214.00" y="382.28" width="40.80" height="6.660" fill="#ffb2b2"/>
<rect x="256.90" y="382.28" width="40.60" height="6.660" fill="#f2f2fc"/>
<rect x="214.00" y="388.94" width="40.80" height="6.660" fill="#ffb2b2"/>
<rect x="256.90" y="388.94" width="40.60" height="6.660" fill="#e1e1f5"/>
<path d="M214.00 29.30H254.80M256.90 29.30H297.50M214.00 35.96H254.80M256.90 35.96H297.50M214.00 42.62H254.80M256.90 42.62H297.50M214.00 49.28H254.80M256.90 49.28H297.50M214.00 55.94H254.80M256.90 55.94H297.50M214.00 62.60H254.80M256.90 62.60H297.50M214.00 69.26H254.80M256.90 69.26H297.50M214.00 75.92H254.80M256.90 75.92H297.50M214.00 82.58H254.80M256.90 82.58H297.50M214.00 89.24H254.80M256.90 89.24H297.50M214.00 95.90H254.80M256.90 95.90H297.50M214.00 102.56H254.80M256.90 102.56H297.50M214.00 109.22H254.80M256.90 109.22H297.50M214.00 115.88H254.80M256.90 115.88H297.50M214.00 122.54H254.80M256.90 122.54H297.50M214.00 129.20H254.80M256.90 129.20H297.50M214.00 135.86H254.80M256.90 135.86H297.50M214.00 142.52H254.80M256.90 142.52H297.50M214.00 149.18H254.80M256.90 149.18H297.50M214.00 155.84H254.80M256.90 155.84H297.50M214.00 162.50H254.80M256.90 162.50H297.50M214.00 169.16H254.80M256.90 169.16H297.50M214.00 175.82H254.80M256.90 175.82H297.50M214.00 182.48H254.80M256.90 182.48H297.50M214.00 189.14H254.80M256.90 189.14H297.50M214.00 195.80H254.80M256.90 195.80H297.50M214.00 202.46H254.80M256.90 202.46H297.50M214.00 209.12H254.80M256.90 209.12H297.50M214.00 215.78H254.80M256.90 215.78H297.50M214.00 222.44H254.80M256.90 222.44H297.50M214.00 229.10H254.80M256.90 229.10H297.50M214.00 235.76H254.80M256.90 235.76H297.50M214.00 242.42H254.80M256.90 242.42H297.50M214.00 249.08H254.80M256.90 249.08H297.50M214.00 255.74H254.80M256.90 255.74H297.50M214.00 262.40H254.80M256.90 262.40H297.50M214.00 269.06H254.80M256.90 269.06H297.50M214.00 275.72H254.80M256.90 275.72H297.50M214.00 282.38H254.80M256.90 282.38H297.50M214.00 289.04H254.80M256.90 289.04H297.50M214.00 295.70H254.80M256.90 295.70H297.50M214.00 302.36H254.80M256.90 302.36H297.50M214.00 309.02H254.80M256.90 309.02H297.50M214.00 315.68H254.80M256.90 315.68H297.50M214.00 322.34H254.80M256.90 322.34H297.50M214.00 329.00H254.80M256.90 329.00H297.50M214.00 335.66H254.80M256.90 335.66H297.50M214.00 342.32H254.80M256.90 342.32H297.50M214.00 348.98H254.80M256.90 348.98H297.50M214.00 355.64H254.80M256.90 355.64H297.50M214.00 362.30H254.80M256.90 362.30H297.50M214.00 368.96H254.80M256.90 368.96H297.50M214.00 375.62H254.80M256.90 375.62H297.50M214.00 382.28H254.80M256.90 382.28H297.50M214.00 388.94H254.80M256.90 388.94H297.50M214.00 395.60H254.80M256.90 395.60H297.50M214.00 29.30V395.60M254.80 29.30V395.60M256.90 29.30V395.60M297.50 29.30V395.60" stroke="#606060" stroke-opacity="0.7" stroke-width="0.9" fill="none"/>
<text x="0" y="0" transform="translate(299.20 35.39) scale(1 1.06)" font-size="7.45" font-weight="normal" text-anchor="start" fill="#111" stroke="#111" stroke-width="0.2" >HMGA1</text>
<text x="0" y="0" transform="translate(299.20 42.05) scale(1 1.06)" font-size="7.45" font-weight="normal" text-anchor="start" fill="#111" stroke="#111" stroke-width="0.2" >OSM</text>
<text x="0" y="0" transform="translate(299.20 48.71) scale(1 1.06)" font-size="7.45" font-weight="normal" text-anchor="start" fill="#111" stroke="#111" stroke-width="0.2" >E2F1</text>
<text x="0" y="0" transform="translate(299.20 55.37) scale(1 1.06)" font-size="7.45" font-weight="normal" text-anchor="start" fill="#111" stroke="#111" stroke-width="0.2" >SERPINE1</text>
<text x="0" y="0" transform="translate(299.20 62.03) scale(1 1.06)" font-size="7.45" font-weight="normal" text-anchor="start" fill="#111" stroke="#111" stroke-width="0.2" >PCK2</text>
<text x="0" y="0" transform="translate(299.20 68.69) scale(1 1.06)" font-size="7.45" font-weight="normal" text-anchor="start" fill="#111" stroke="#111" stroke-width="0.2" >LIF</text>
<text x="0" y="0" transform="translate(299.20 75.35) scale(1 1.06)" font-size="7.45" font-weight="normal" text-anchor="start" fill="#111" stroke="#111" stroke-width="0.2" >PCK1</text>
<text x="0" y="0" transform="translate(299.20 82.01) scale(1 1.06)" font-size="7.45" font-weight="normal" text-anchor="start" fill="#111" stroke="#111" stroke-width="0.2" >GDF10</text>
<text x="0" y="0" transform="translate(299.20 88.67) scale(1 1.06)" font-size="7.45" font-weight="normal" text-anchor="start" fill="#111" stroke="#111" stroke-width="0.2" >GADD45A</text>
<text x="0" y="0" transform="translate(299.20 95.33) scale(1 1.06)" font-size="7.45" font-weight="normal" text-anchor="start" fill="#111" stroke="#111" stroke-width="0.2" >TRIB3</text>
<text x="0" y="0" transform="translate(299.20 101.99) scale(1 1.06)" font-size="7.45" font-weight="normal" text-anchor="start" fill="#111" stroke="#111" stroke-width="0.2" >STAT2</text>
<text x="0" y="0" transform="translate(299.20 108.65) scale(1 1.06)" font-size="7.45" font-weight="normal" text-anchor="start" fill="#111" stroke="#111" stroke-width="0.2" >KLF7</text>
<text x="0" y="0" transform="translate(299.20 115.31) scale(1 1.06)" font-size="7.45" font-weight="normal" text-anchor="start" fill="#111" stroke="#111" stroke-width="0.2" >BMP3</text>
<text x="0" y="0" transform="translate(299.20 121.97) scale(1 1.06)" font-size="7.45" font-weight="normal" text-anchor="start" fill="#111" stroke="#111" stroke-width="0.2" >EGR2</text>
<text x="0" y="0" transform="translate(299.20 128.63) scale(1 1.06)" font-size="7.45" font-weight="normal" text-anchor="start" fill="#111" stroke="#111" stroke-width="0.2" >CDKN1A</text>
<text x="0" y="0" transform="translate(299.20 135.29) scale(1 1.06)" font-size="7.45" font-weight="normal" text-anchor="start" fill="#111" stroke="#111" stroke-width="0.2" >NCOA2</text>
<text x="0" y="0" transform="translate(299.20 141.95) scale(1 1.06)" font-size="7.45" font-weight="normal" text-anchor="start" fill="#111" stroke="#111" stroke-width="0.2" >CNTFR</text>
<text x="0" y="0" transform="translate(299.20 148.61) scale(1 1.06)" font-size="7.45" font-weight="normal" text-anchor="start" fill="#111" stroke="#111" stroke-width="0.2" >PTGIS</text>
<text x="0" y="0" transform="translate(299.20 155.27) scale(1 1.06)" font-size="7.45" font-weight="normal" text-anchor="start" fill="#111" stroke="#111" stroke-width="0.2" >GADD45B</text>
<text x="0" y="0" transform="translate(299.20 161.93) scale(1 1.06)" font-size="7.45" font-weight="normal" text-anchor="start" fill="#111" stroke="#111" stroke-width="0.2" >LIFR</text>
<text x="0" y="0" transform="translate(299.20 168.59) scale(1 1.06)" font-size="7.45" font-weight="normal" text-anchor="start" fill="#111" stroke="#111" stroke-width="0.2" >IL6ST</text>
<text x="0" y="0" transform="translate(299.20 175.25) scale(1 1.06)" font-size="7.45" font-weight="normal" text-anchor="start" fill="#111" stroke="#111" stroke-width="0.2" >RB1</text>
<text x="0" y="0" transform="translate(299.20 181.91) scale(1 1.06)" font-size="7.45" font-weight="normal" text-anchor="start" fill="#111" stroke="#111" stroke-width="0.2" >SOCS1</text>
<text x="0" y="0" transform="translate(299.20 188.57) scale(1 1.06)" font-size="7.45" font-weight="normal" text-anchor="start" fill="#111" stroke="#111" stroke-width="0.2" >STAT5B</text>
<text x="0" y="0" transform="translate(299.20 195.23) scale(1 1.06)" font-size="7.45" font-weight="normal" text-anchor="start" fill="#111" stroke="#111" stroke-width="0.2" >SCD</text>
<text x="0" y="0" transform="translate(299.20 201.89) scale(1 1.06)" font-size="7.45" font-weight="normal" text-anchor="start" fill="#111" stroke="#111" stroke-width="0.2" >RBL2</text>
<text x="0" y="0" transform="translate(299.20 208.55) scale(1 1.06)" font-size="7.45" font-weight="normal" text-anchor="start" fill="#111" stroke="#111" stroke-width="0.2" >SP1</text>
<text x="0" y="0" transform="translate(299.20 215.21) scale(1 1.06)" font-size="7.45" font-weight="normal" text-anchor="start" fill="#111" stroke="#111" stroke-width="0.2" >SOCS3</text>
<text x="0" y="0" transform="translate(299.20 221.87) scale(1 1.06)" font-size="7.45" font-weight="normal" text-anchor="start" fill="#111" stroke="#111" stroke-width="0.2" >FRZB</text>
<text x="0" y="0" transform="translate(299.20 228.53) scale(1 1.06)" font-size="7.45" font-weight="normal" text-anchor="start" fill="#111" stroke="#111" stroke-width="0.2" >KLF6</text>
<text x="0" y="0" transform="translate(299.20 235.19) scale(1 1.06)" font-size="7.45" font-weight="normal" text-anchor="start" fill="#111" stroke="#111" stroke-width="0.2" >DVL1</text>
<text x="0" y="0" transform="translate(299.20 241.85) scale(1 1.06)" font-size="7.45" font-weight="normal" text-anchor="start" fill="#111" stroke="#111" stroke-width="0.2" >WWTR1</text>
<text x="0" y="0" transform="translate(299.20 248.51) scale(1 1.06)" font-size="7.45" font-weight="normal" text-anchor="start" fill="#111" stroke="#111" stroke-width="0.2" >CTNNB1</text>
<text x="0" y="0" transform="translate(299.20 255.17) scale(1 1.06)" font-size="7.45" font-weight="normal" text-anchor="start" fill="#111" stroke="#111" stroke-width="0.2" >STAT1</text>
<text x="0" y="0" transform="translate(299.20 261.83) scale(1 1.06)" font-size="7.45" font-weight="normal" text-anchor="start" fill="#111" stroke="#111" stroke-width="0.2" >STAT6</text>
<text x="0" y="0" transform="translate(299.20 268.49) scale(1 1.06)" font-size="7.45" font-weight="normal" text-anchor="start" fill="#111" stroke="#111" stroke-width="0.2" >KLF15</text>
<text x="0" y="0" transform="translate(299.20 275.15) scale(1 1.06)" font-size="7.45" font-weight="normal" text-anchor="start" fill="#111" stroke="#111" stroke-width="0.2" >SMAD3</text>
<text x="0" y="0" transform="translate(299.20 281.81) scale(1 1.06)" font-size="7.45" font-weight="normal" text-anchor="start" fill="#111" stroke="#111" stroke-width="0.2" >FZD1</text>
<text x="0" y="0" transform="translate(299.20 288.47) scale(1 1.06)" font-size="7.45" font-weight="normal" text-anchor="start" fill="#111" stroke="#111" stroke-width="0.2" >DDIT3</text>
<text x="0" y="0" transform="translate(299.20 295.13) scale(1 1.06)" font-size="7.45" font-weight="normal" text-anchor="start" fill="#111" stroke="#111" stroke-width="0.2" >RBL1</text>
<text x="0" y="0" transform="translate(299.20 301.79) scale(1 1.06)" font-size="7.45" font-weight="normal" text-anchor="start" fill="#111" stroke="#111" stroke-width="0.2" >HIF1A</text>
<text x="0" y="0" transform="translate(299.20 308.45) scale(1 1.06)" font-size="7.45" font-weight="normal" text-anchor="start" fill="#111" stroke="#111" stroke-width="0.2" >EPAS1</text>
<text x="0" y="0" transform="translate(299.20 315.11) scale(1 1.06)" font-size="7.45" font-weight="normal" text-anchor="start" fill="#111" stroke="#111" stroke-width="0.2" >STAT5A</text>
<text x="0" y="0" transform="translate(299.20 321.77) scale(1 1.06)" font-size="7.45" font-weight="normal" text-anchor="start" fill="#111" stroke="#111" stroke-width="0.2" >STAT3</text>
<text x="0" y="0" transform="translate(299.20 328.43) scale(1 1.06)" font-size="7.45" font-weight="normal" text-anchor="start" fill="#111" stroke="#111" stroke-width="0.2" >ID3</text>
<text x="0" y="0" transform="translate(299.20 335.09) scale(1 1.06)" font-size="7.45" font-weight="normal" text-anchor="start" fill="#111" stroke="#111" stroke-width="0.2" >SFRP4</text>
<text x="0" y="0" transform="translate(299.20 341.75) scale(1 1.06)" font-size="7.45" font-weight="normal" text-anchor="start" fill="#111" stroke="#111" stroke-width="0.2" >E2F4</text>
<text x="0" y="0" transform="translate(299.20 348.41) scale(1 1.06)" font-size="7.45" font-weight="normal" text-anchor="start" fill="#111" stroke="#111" stroke-width="0.2" >MIF</text>
<text x="0" y="0" transform="translate(299.20 355.07) scale(1 1.06)" font-size="7.45" font-weight="normal" text-anchor="start" fill="#111" stroke="#111" stroke-width="0.2" >CYP26B1</text>
<text x="0" y="0" transform="translate(299.20 361.73) scale(1 1.06)" font-size="7.45" font-weight="normal" text-anchor="start" fill="#111" stroke="#111" stroke-width="0.2" >BMP1</text>
<text x="0" y="0" transform="translate(299.20 368.39) scale(1 1.06)" font-size="7.45" font-weight="normal" text-anchor="start" fill="#111" stroke="#111" stroke-width="0.2" >AHR</text>
<text x="0" y="0" transform="translate(299.20 375.05) scale(1 1.06)" font-size="7.45" font-weight="normal" text-anchor="start" fill="#111" stroke="#111" stroke-width="0.2" >FOXC2</text>
<text x="0" y="0" transform="translate(299.20 381.71) scale(1 1.06)" font-size="7.45" font-weight="normal" text-anchor="start" fill="#111" stroke="#111" stroke-width="0.2" >BMP2</text>
<text x="0" y="0" transform="translate(299.20 388.37) scale(1 1.06)" font-size="7.45" font-weight="normal" text-anchor="start" fill="#111" stroke="#111" stroke-width="0.2" >BMP4</text>
<text x="0" y="0" transform="translate(299.20 395.03) scale(1 1.06)" font-size="7.45" font-weight="normal" text-anchor="start" fill="#111" stroke="#111" stroke-width="0.2" >KLF5</text>
<path d="M209.50 32.63L209.50 39.29M209.50 32.63L214.00 32.63M209.50 39.29L214.00 39.29M211.00 52.61L211.00 59.27M211.00 52.61L214.00 52.61M211.00 59.27L214.00 59.27M205.00 45.95L205.00 55.94M205.00 45.95L214.00 45.95M205.00 55.94L211.00 55.94M209.00 65.93L209.00 72.59M209.00 65.93L214.00 65.93M209.00 72.59L214.00 72.59M201.30 50.95L201.30 69.26M201.30 50.95L205.00 50.95M201.30 69.26L209.00 69.26M199.60 35.96L199.60 60.10M199.60 35.96L209.50 35.96M199.60 60.10L201.30 60.10M210.50 92.57L210.50 99.23M210.50 92.57L214.00 92.57M210.50 99.23L214.00 99.23M208.00 85.91L208.00 95.90M208.00 85.91L214.00 85.91M208.00 95.90L210.50 95.90M205.00 79.25L205.00 90.91M205.00 79.25L214.00 79.25M205.00 90.91L208.00 90.91M211.45 105.89L211.45 112.55M211.45 105.89L214.00 105.89M211.45 112.55L214.00 112.55M210.55 109.22L210.55 119.21M210.55 109.22L211.45 109.22M210.55 119.21L214.00 119.21M211.45 125.87L211.45 132.53M211.45 125.87L214.00 125.87M211.45 132.53L214.00 132.53M210.55 129.20L210.55 139.19M210.55 129.20L211.45 129.20M210.55 139.19L214.00 139.19M209.00 114.22L209.00 134.19M209.00 114.22L210.55 114.22M209.00 134.19L210.55 134.19M211.29 145.85L211.29 152.51M211.29 145.85L214.00 145.85M211.29 152.51L214.00 152.51M210.29 149.18L210.29 159.17M210.29 149.18L211.29 149.18M210.29 159.17L214.00 159.17M211.29 165.83L211.29 172.49M211.29 165.83L214.00 165.83M211.29 172.49L214.00 172.49M209.02 154.18L209.02 169.16M209.02 154.18L210.29 154.18M209.02 169.16L211.29 169.16M211.29 179.15L211.29 185.81M211.29 179.15L214.00 179.15M211.29 185.81L214.00 185.81M211.29 192.47L211.29 199.13M211.29 192.47L214.00 192.47M211.29 199.13L214.00 199.13M209.57 182.48L209.57 195.80M209.57 182.48L211.29 182.48M209.57 195.80L211.29 195.80M207.57 161.67L207.57 189.14M207.57 161.67L209.02 161.67M207.57 189.14L209.57 189.14M211.29 205.79L211.29 212.45M211.29 205.79L214.00 205.79M211.29 212.45L214.00 212.45M211.29 219.11L211.29 225.77M211.29 219.11L214.00 219.11M211.29 225.77L214.00 225.77M209.57 209.12L209.57 222.44M209.57 209.12L211.29 209.12M209.57 222.44L211.29 222.44M211.29 232.43L211.29 239.09M211.29 232.43L214.00 232.43M211.29 239.09L214.00 239.09M211.29 245.75L211.29 252.41M211.29 245.75L214.00 245.75M211.29 252.41L214.00 252.41M209.57 235.76L209.57 249.08M209.57 235.76L211.29 235.76M209.57 249.08L211.29 249.08M207.86 215.78L207.86 242.42M207.86 215.78L209.57 215.78M207.86 242.42L209.57 242.42M206.00 175.40L206.00 229.10M206.00 175.40L207.57 175.40M206.00 229.10L207.86 229.10M211.92 259.07L211.92 265.73M211.92 259.07L214.00 259.07M211.92 265.73L214.00 265.73M211.92 272.39L211.92 279.05M211.92 272.39L214.00 272.39M211.92 279.05L214.00 279.05M210.84 262.40L210.84 275.72M210.84 262.40L211.92 262.40M210.84 275.72L211.92 275.72M211.92 285.71L211.92 292.37M211.92 285.71L214.00 285.71M211.92 292.37L214.00 292.37M211.29 289.04L211.29 299.03M211.29 289.04L211.92 289.04M211.29 299.03L214.00 299.03M209.97 269.06L209.97 294.04M209.97 269.06L210.84 269.06M209.97 294.04L211.29 294.04M211.92 305.69L211.92 312.35M211.92 305.69L214.00 305.69M211.92 312.35L214.00 312.35M211.29 309.02L211.29 319.01M211.29 309.02L211.92 309.02M211.29 319.01L214.00 319.01M211.92 325.67L211.92 332.33M211.92 325.67L214.00 325.67M211.92 332.33L214.00 332.33M211.29 329.00L211.29 338.99M211.29 329.00L211.92 329.00M211.29 338.99L214.00 338.99M210.21 314.01L210.21 334.00M210.21 314.01L211.29 314.01M210.21 334.00L211.29 334.00M209.00 281.55L209.00 324.00M209.00 281.55L209.97 281.55M209.00 324.00L210.21 324.00M211.67 345.65L211.67 352.31M211.67 345.65L214.00 345.65M211.67 352.31L214.00 352.31M211.67 358.97L211.67 365.63M211.67 358.97L214.00 358.97M211.67 365.63L214.00 365.63M210.33 348.98L210.33 362.30M210.33 348.98L211.67 348.98M210.33 362.30L211.67 362.30M211.67 372.29L211.67 378.95M211.67 372.29L214.00 372.29M211.67 378.95L214.00 378.95M211.67 385.61L211.67 392.27M211.67 385.61L214.00 385.61M211.67 392.27L214.00 392.27M210.33 375.62L210.33 388.94M210.33 375.62L211.67 375.62M210.33 388.94L211.67 388.94M209.00 355.64L209.00 382.28M209.00 355.64L210.33 355.64M209.00 382.28L210.33 382.28M207.30 302.78L207.30 368.96M207.30 302.78L209.00 302.78M207.30 368.96L209.00 368.96M204.40 202.25L204.40 335.87M204.40 202.25L206.00 202.25M204.40 335.87L207.30 335.87M203.20 124.20L203.20 269.06M203.20 124.20L209.00 124.20M203.20 269.06L204.40 269.06M197.30 85.08L197.30 196.63M197.30 85.08L205.00 85.08M197.30 196.63L203.20 196.63M187.00 48.03L187.00 140.85M187.00 48.03L199.60 48.03M187.00 140.85L197.30 140.85" stroke="#7a7a7a" stroke-width="0.65" fill="none"/>
<defs><linearGradient id="gB" x1="0" y1="0" x2="0" y2="1"><stop offset="0" stop-color="#ff0000"/><stop offset="0.5" stop-color="#ffffff"/><stop offset="0.55" stop-color="#e6e6f7"/><stop offset="0.60" stop-color="#cccced"/><stop offset="0.65" stop-color="#b2b2e1"/><stop offset="0.70" stop-color="#9999d5"/><stop offset="0.75" stop-color="#8080c8"/><stop offset="0.80" stop-color="#6666ba"/><stop offset="0.85" stop-color="#4c4cac"/><stop offset="0.90" stop-color="#33339e"/><stop offset="0.95" stop-color="#19198f"/><stop offset="1.00" stop-color="#000080"/></linearGradient></defs>
<rect x="340.2" y="29.2" width="4.6" height="76.6" fill="url(#gB)"/>
<text x="347.20" y="32.46" font-size="7.4" font-weight="normal" text-anchor="start" fill="#111" stroke="#111" stroke-width="0.1" >3</text>
<text x="347.20" y="45.23" font-size="7.4" font-weight="normal" text-anchor="start" fill="#111" stroke="#111" stroke-width="0.1" >2</text>
<text x="347.20" y="58.00" font-size="7.4" font-weight="normal" text-anchor="start" fill="#111" stroke="#111" stroke-width="0.1" >1</text>
<text x="347.20" y="70.76" font-size="7.4" font-weight="normal" text-anchor="start" fill="#111" stroke="#111" stroke-width="0.1" >0</text>
<text x="347.20" y="83.53" font-size="7.4" font-weight="normal" text-anchor="start" fill="#111" stroke="#111" stroke-width="0.1" >-1</text>
<text x="347.20" y="96.30" font-size="7.4" font-weight="normal" text-anchor="start" fill="#111" stroke="#111" stroke-width="0.1" >-2</text>
<text x="347.20" y="109.06" font-size="7.4" font-weight="normal" text-anchor="start" fill="#111" stroke="#111" stroke-width="0.1" >-3</text>
<rect x="396.50" y="30.30" width="37.00" height="6.018" fill="#ffffff"/>
<rect x="435.10" y="30.30" width="37.00" height="6.018" fill="#000080"/>
<rect x="396.50" y="36.32" width="37.00" height="6.018" fill="#ff5e5e"/>
<rect x="435.10" y="36.32" width="37.00" height="6.018" fill="#ff5e5e"/>
<rect x="396.50" y="42.34" width="37.00" height="6.018" fill="#ff9999"/>
<rect x="435.10" y="42.34" width="37.00" height="6.018" fill="#ffe6e6"/>
<rect x="396.50" y="48.35" width="37.00" height="6.018" fill="#ff5e5e"/>
<rect x="435.10" y="48.35" width="37.00" height="6.018" fill="#f2f2fc"/>
<rect x="396.50" y="54.37" width="37.00" height="6.018" fill="#ffe6e6"/>
<rect x="435.10" y="54.37" width="37.00" height="6.018" fill="#ffe1e1"/>
<rect x="396.50" y="60.39" width="37.00" height="6.018" fill="#fff2f2"/>
<rect x="435.10" y="60.39" width="37.00" height="6.018" fill="#ffe6e6"/>
<rect x="396.50" y="66.41" width="37.00" height="6.018" fill="#ffe6e6"/>
<rect x="435.10" y="66.41" width="37.00" height="6.018" fill="#ffeeee"/>
<rect x="396.50" y="72.43" width="37.00" height="6.018" fill="#ffe6e6"/>
<rect x="435.10" y="72.43" width="37.00" height="6.018" fill="#f6f6fd"/>
<rect x="396.50" y="78.44" width="37.00" height="6.018" fill="#fffbfb"/>
<rect x="435.10" y="78.44" width="37.00" height="6.018" fill="#ffffff"/>
<rect x="396.50" y="84.46" width="37.00" height="6.018" fill="#fffbfb"/>
<rect x="435.10" y="84.46" width="37.00" height="6.018" fill="#ffffff"/>
<rect x="396.50" y="90.48" width="37.00" height="6.018" fill="#fff6f6"/>
<rect x="435.10" y="90.48" width="37.00" height="6.018" fill="#ffffff"/>
<rect x="396.50" y="96.50" width="37.00" height="6.018" fill="#fff2f2"/>
<rect x="435.10" y="96.50" width="37.00" height="6.018" fill="#ffffff"/>
<rect x="396.50" y="102.52" width="37.00" height="6.018" fill="#ffe6e6"/>
<rect x="435.10" y="102.52" width="37.00" height="6.018" fill="#ffc2c2"/>
<rect x="396.50" y="108.53" width="37.00" height="6.018" fill="#ffe6e6"/>
<rect x="435.10" y="108.53" width="37.00" height="6.018" fill="#ffc5c5"/>
<rect x="396.50" y="114.55" width="37.00" height="6.018" fill="#ffe6e6"/>
<rect x="435.10" y="114.55" width="37.00" height="6.018" fill="#ffc9c9"/>
<rect x="396.50" y="120.57" width="37.00" height="6.018" fill="#eaeaf9"/>
<rect x="435.10" y="120.57" width="37.00" height="6.018" fill="#ffc5c5"/>
<rect x="396.50" y="126.59" width="37.00" height="6.018" fill="#e6e6f7"/>
<rect x="435.10" y="126.59" width="37.00" height="6.018" fill="#ffc2c2"/>
<rect x="396.50" y="132.61" width="37.00" height="6.018" fill="#f2f2fc"/>
<rect x="435.10" y="132.61" width="37.00" height="6.018" fill="#ffd4d4"/>
<rect x="396.50" y="138.62" width="37.00" height="6.018" fill="#f6f6fd"/>
<rect x="435.10" y="138.62" width="37.00" height="6.018" fill="#ffd4d4"/>
<rect x="396.50" y="144.64" width="37.00" height="6.018" fill="#ffffff"/>
<rect x="435.10" y="144.64" width="37.00" height="6.018" fill="#ffd4d4"/>
<rect x="396.50" y="150.66" width="37.00" height="6.018" fill="#ffffff"/>
<rect x="435.10" y="150.66" width="37.00" height="6.018" fill="#ffd4d4"/>
<rect x="396.50" y="156.68" width="37.00" height="6.018" fill="#ffffff"/>
<rect x="435.10" y="156.68" width="37.00" height="6.018" fill="#ffd9d9"/>
<rect x="396.50" y="162.70" width="37.00" height="6.018" fill="#ffffff"/>
<rect x="435.10" y="162.70" width="37.00" height="6.018" fill="#ffdddd"/>
<rect x="396.50" y="168.71" width="37.00" height="6.018" fill="#ffeeee"/>
<rect x="435.10" y="168.71" width="37.00" height="6.018" fill="#d0d0ee"/>
<rect x="396.50" y="174.73" width="37.00" height="6.018" fill="#fff6f6"/>
<rect x="435.10" y="174.73" width="37.00" height="6.018" fill="#d9d9f2"/>
<rect x="396.50" y="180.75" width="37.00" height="6.018" fill="#ffeeee"/>
<rect x="435.10" y="180.75" width="37.00" height="6.018" fill="#ddddf4"/>
<rect x="396.50" y="186.77" width="37.00" height="6.018" fill="#ffffff"/>
<rect x="435.10" y="186.77" width="37.00" height="6.018" fill="#d0d0ee"/>
<rect x="396.50" y="192.79" width="37.00" height="6.018" fill="#ffffff"/>
<rect x="435.10" y="192.79" width="37.00" height="6.018" fill="#d4d4f0"/>
<rect x="396.50" y="198.80" width="37.00" height="6.018" fill="#ffffff"/>
<rect x="435.10" y="198.80" width="37.00" height="6.018" fill="#e6e6f7"/>
<rect x="396.50" y="204.82" width="37.00" height="6.018" fill="#ffffff"/>
<rect x="435.10" y="204.82" width="37.00" height="6.018" fill="#e1e1f5"/>
<rect x="396.50" y="210.84" width="37.00" height="6.018" fill="#fbfbfe"/>
<rect x="435.10" y="210.84" width="37.00" height="6.018" fill="#cccced"/>
<rect x="396.50" y="216.86" width="37.00" height="6.018" fill="#fbfbfe"/>
<rect x="435.10" y="216.86" width="37.00" height="6.018" fill="#c8c8eb"/>
<rect x="396.50" y="222.88" width="37.00" height="6.018" fill="#ffffff"/>
<rect x="435.10" y="222.88" width="37.00" height="6.018" fill="#bbbbe5"/>
<rect x="396.50" y="228.90" width="37.00" height="6.018" fill="#fffbfb"/>
<rect x="435.10" y="228.90" width="37.00" height="6.018" fill="#c4c4e9"/>
<rect x="396.50" y="234.91" width="37.00" height="6.018" fill="#fffbfb"/>
<rect x="435.10" y="234.91" width="37.00" height="6.018" fill="#c4c4e9"/>
<rect x="396.50" y="240.93" width="37.00" height="6.018" fill="#ffffff"/>
<rect x="435.10" y="240.93" width="37.00" height="6.018" fill="#f2f2fc"/>
<rect x="396.50" y="246.95" width="37.00" height="6.018" fill="#ffffff"/>
<rect x="435.10" y="246.95" width="37.00" height="6.018" fill="#f2f2fc"/>
<rect x="396.50" y="252.97" width="37.00" height="6.018" fill="#ffffff"/>
<rect x="435.10" y="252.97" width="37.00" height="6.018" fill="#eeeefa"/>
<rect x="396.50" y="258.99" width="37.00" height="6.018" fill="#ffffff"/>
<rect x="435.10" y="258.99" width="37.00" height="6.018" fill="#f2f2fc"/>
<rect x="396.50" y="265.00" width="37.00" height="6.018" fill="#ffffff"/>
<rect x="435.10" y="265.00" width="37.00" height="6.018" fill="#eeeefa"/>
<rect x="396.50" y="271.02" width="37.00" height="6.018" fill="#e6e6f7"/>
<rect x="435.10" y="271.02" width="37.00" height="6.018" fill="#e6e6f7"/>
<rect x="396.50" y="277.04" width="37.00" height="6.018" fill="#eaeaf9"/>
<rect x="435.10" y="277.04" width="37.00" height="6.018" fill="#e6e6f7"/>
<rect x="396.50" y="283.06" width="37.00" height="6.018" fill="#f2f2fc"/>
<rect x="435.10" y="283.06" width="37.00" height="6.018" fill="#e6e6f7"/>
<rect x="396.50" y="289.08" width="37.00" height="6.018" fill="#e6e6f7"/>
<rect x="435.10" y="289.08" width="37.00" height="6.018" fill="#fffbfb"/>
<rect x="396.50" y="295.09" width="37.00" height="6.018" fill="#eaeaf9"/>
<rect x="435.10" y="295.09" width="37.00" height="6.018" fill="#fff6f6"/>
<rect x="396.50" y="301.11" width="37.00" height="6.018" fill="#eaeaf9"/>
<rect x="435.10" y="301.11" width="37.00" height="6.018" fill="#ffffff"/>
<rect x="396.50" y="307.13" width="37.00" height="6.018" fill="#eeeefa"/>
<rect x="435.10" y="307.13" width="37.00" height="6.018" fill="#ffffff"/>
<rect x="396.50" y="313.15" width="37.00" height="6.018" fill="#f2f2fc"/>
<rect x="435.10" y="313.15" width="37.00" height="6.018" fill="#ffffff"/>
<rect x="396.50" y="319.17" width="37.00" height="6.018" fill="#f6f6fd"/>
<rect x="435.10" y="319.17" width="37.00" height="6.018" fill="#ffffff"/>
<rect x="396.50" y="325.18" width="37.00" height="6.018" fill="#f6f6fd"/>
<rect x="435.10" y="325.18" width="37.00" height="6.018" fill="#fffbfb"/>
<rect x="396.50" y="331.20" width="37.00" height="6.018" fill="#fbfbfe"/>
<rect x="435.10" y="331.20" width="37.00" height="6.018" fill="#fffcfc"/>
<rect x="396.50" y="337.22" width="37.00" height="6.018" fill="#f2f2fc"/>
<rect x="435.10" y="337.22" width="37.00" height="6.018" fill="#ffffff"/>
<rect x="396.50" y="343.24" width="37.00" height="6.018" fill="#a2a2d9"/>
<rect x="435.10" y="343.24" width="37.00" height="6.018" fill="#9090d0"/>
<rect x="396.50" y="349.26" width="37.00" height="6.018" fill="#cccced"/>
<rect x="435.10" y="349.26" width="37.00" height="6.018" fill="#7777c3"/>
<rect x="396.50" y="355.27" width="37.00" height="6.018" fill="#fbfbfe"/>
<rect x="435.10" y="355.27" width="37.00" height="6.018" fill="#9595d3"/>
<rect x="396.50" y="361.29" width="37.00" height="6.018" fill="#fbfbfe"/>
<rect x="435.10" y="361.29" width="37.00" height="6.018" fill="#9d9dd7"/>
<rect x="396.50" y="367.31" width="37.00" height="6.018" fill="#fff6f6"/>
<rect x="435.10" y="367.31" width="37.00" height="6.018" fill="#6262b8"/>
<rect x="396.50" y="373.33" width="37.00" height="6.018" fill="#ffbbbb"/>
<rect x="435.10" y="373.33" width="37.00" height="6.018" fill="#7373c1"/>
<rect x="396.50" y="379.35" width="37.00" height="6.018" fill="#ffbbbb"/>
<rect x="435.10" y="379.35" width="37.00" height="6.018" fill="#aaaadd"/>
<rect x="396.50" y="385.36" width="37.00" height="6.018" fill="#ffe1e1"/>
<rect x="435.10" y="385.36" width="37.00" height="6.018" fill="#9090d0"/>
<rect x="396.50" y="391.38" width="37.00" height="6.018" fill="#ffd9d9"/>
<rect x="435.10" y="391.38" width="37.00" height="6.018" fill="#9090d0"/>
<path d="M396.50 30.30H433.50M435.10 30.30H472.10M396.50 36.32H433.50M435.10 36.32H472.10M396.50 42.34H433.50M435.10 42.34H472.10M396.50 48.35H433.50M435.10 48.35H472.10M396.50 54.37H433.50M435.10 54.37H472.10M396.50 60.39H433.50M435.10 60.39H472.10M396.50 66.41H433.50M435.10 66.41H472.10M396.50 72.43H433.50M435.10 72.43H472.10M396.50 78.44H433.50M435.10 78.44H472.10M396.50 84.46H433.50M435.10 84.46H472.10M396.50 90.48H433.50M435.10 90.48H472.10M396.50 96.50H433.50M435.10 96.50H472.10M396.50 102.52H433.50M435.10 102.52H472.10M396.50 108.53H433.50M435.10 108.53H472.10M396.50 114.55H433.50M435.10 114.55H472.10M396.50 120.57H433.50M435.10 120.57H472.10M396.50 126.59H433.50M435.10 126.59H472.10M396.50 132.61H433.50M435.10 132.61H472.10M396.50 138.62H433.50M435.10 138.62H472.10M396.50 144.64H433.50M435.10 144.64H472.10M396.50 150.66H433.50M435.10 150.66H472.10M396.50 156.68H433.50M435.10 156.68H472.10M396.50 162.70H433.50M435.10 162.70H472.10M396.50 168.71H433.50M435.10 168.71H472.10M396.50 174.73H433.50M435.10 174.73H472.10M396.50 180.75H433.50M435.10 180.75H472.10M396.50 186.77H433.50M435.10 186.77H472.10M396.50 192.79H433.50M435.10 192.79H472.10M396.50 198.80H433.50M435.10 198.80H472.10M396.50 204.82H433.50M435.10 204.82H472.10M396.50 210.84H433.50M435.10 210.84H472.10M396.50 216.86H433.50M435.10 216.86H472.10M396.50 222.88H433.50M435.10 222.88H472.10M396.50 228.90H433.50M435.10 228.90H472.10M396.50 234.91H433.50M435.10 234.91H472.10M396.50 240.93H433.50M435.10 240.93H472.10M396.50 246.95H433.50M435.10 246.95H472.10M396.50 252.97H433.50M435.10 252.97H472.10M396.50 258.99H433.50M435.10 258.99H472.10M396.50 265.00H433.50M435.10 265.00H472.10M396.50 271.02H433.50M435.10 271.02H472.10M396.50 277.04H433.50M435.10 277.04H472.10M396.50 283.06H433.50M435.10 283.06H472.10M396.50 289.08H433.50M435.10 289.08H472.10M396.50 295.09H433.50M435.10 295.09H472.10M396.50 301.11H433.50M435.10 301.11H472.10M396.50 307.13H433.50M435.10 307.13H472.10M396.50 313.15H433.50M435.10 313.15H472.10M396.50 319.17H433.50M435.10 319.17H472.10M396.50 325.18H433.50M435.10 325.18H472.10M396.50 331.20H433.50M435.10 331.20H472.10M396.50 337.22H433.50M435.10 337.22H472.10M396.50 343.24H433.50M435.10 343.24H472.10M396.50 349.26H433.50M435.10 349.26H472.10M396.50 355.27H433.50M435.10 355.27H472.10M396.50 361.29H433.50M435.10 361.29H472.10M396.50 367.31H433.50M435.10 367.31H472.10M396.50 373.33H433.50M435.10 373.33H472.10M396.50 379.35H433.50M435.10 379.35H472.10M396.50 385.36H433.50M435.10 385.36H472.10M396.50 391.38H433.50M435.10 391.38H472.10M396.50 397.40H433.50M435.10 397.40H472.10M396.50 30.30V397.40M433.50 30.30V397.40M435.10 30.30V397.40M472.10 30.30V397.40" stroke="#606060" stroke-opacity="0.7" stroke-width="0.9" fill="none"/>
<text x="0" y="0" transform="translate(473.60 35.93) scale(1 1.1)" font-size="6.8" font-weight="normal" text-anchor="start" fill="#111" stroke="#111" stroke-width="0.2" >ACSBG1</text>
<text x="0" y="0" transform="translate(473.60 41.95) scale(1 1.1)" font-size="6.8" font-weight="normal" text-anchor="start" fill="#111" stroke="#111" stroke-width="0.2" >ADH4</text>
<text x="0" y="0" transform="translate(473.60 47.96) scale(1 1.1)" font-size="6.8" font-weight="normal" text-anchor="start" fill="#111" stroke="#111" stroke-width="0.2" >ELOVL4</text>
<text x="0" y="0" transform="translate(473.60 53.98) scale(1 1.1)" font-size="6.8" font-weight="normal" text-anchor="start" fill="#111" stroke="#111" stroke-width="0.2" >THEM5</text>
<text x="0" y="0" transform="translate(473.60 60.00) scale(1 1.1)" font-size="6.8" font-weight="normal" text-anchor="start" fill="#111" stroke="#111" stroke-width="0.2" >ACACA</text>
<text x="0" y="0" transform="translate(473.60 66.02) scale(1 1.1)" font-size="6.8" font-weight="normal" text-anchor="start" fill="#111" stroke="#111" stroke-width="0.2" >ACSF3</text>
<text x="0" y="0" transform="translate(473.60 72.04) scale(1 1.1)" font-size="6.8" font-weight="normal" text-anchor="start" fill="#111" stroke="#111" stroke-width="0.2" >CPT2</text>
<text x="0" y="0" transform="translate(473.60 78.05) scale(1 1.1)" font-size="6.8" font-weight="normal" text-anchor="start" fill="#111" stroke="#111" stroke-width="0.2" >ACSL5</text>
<text x="0" y="0" transform="translate(473.60 84.07) scale(1 1.1)" font-size="6.8" font-weight="normal" text-anchor="start" fill="#111" stroke="#111" stroke-width="0.2" >ECI2</text>
<text x="0" y="0" transform="translate(473.60 90.09) scale(1 1.1)" font-size="6.8" font-weight="normal" text-anchor="start" fill="#111" stroke="#111" stroke-width="0.2" >ACADM</text>
<text x="0" y="0" transform="translate(473.60 96.11) scale(1 1.1)" font-size="6.8" font-weight="normal" text-anchor="start" fill="#111" stroke="#111" stroke-width="0.2" >HSD17B4</text>
<text x="0" y="0" transform="translate(473.60 102.13) scale(1 1.1)" font-size="6.8" font-weight="normal" text-anchor="start" fill="#111" stroke="#111" stroke-width="0.2" >OXSM</text>
<text x="0" y="0" transform="translate(473.60 108.14) scale(1 1.1)" font-size="6.8" font-weight="normal" text-anchor="start" fill="#111" stroke="#111" stroke-width="0.2" >CBR4</text>
<text x="0" y="0" transform="translate(473.60 114.16) scale(1 1.1)" font-size="6.8" font-weight="normal" text-anchor="start" fill="#111" stroke="#111" stroke-width="0.2" >ALDH7A1</text>
<text x="0" y="0" transform="translate(473.60 120.18) scale(1 1.1)" font-size="6.8" font-weight="normal" text-anchor="start" fill="#111" stroke="#111" stroke-width="0.2" >ACADL</text>
<text x="0" y="0" transform="translate(473.60 126.20) scale(1 1.1)" font-size="6.8" font-weight="normal" text-anchor="start" fill="#111" stroke="#111" stroke-width="0.2" >ACAT1</text>
<text x="0" y="0" transform="translate(473.60 132.22) scale(1 1.1)" font-size="6.8" font-weight="normal" text-anchor="start" fill="#111" stroke="#111" stroke-width="0.2" >ALDH2</text>
<text x="0" y="0" transform="translate(473.60 138.23) scale(1 1.1)" font-size="6.8" font-weight="normal" text-anchor="start" fill="#111" stroke="#111" stroke-width="0.2" >HACD1</text>
<text x="0" y="0" transform="translate(473.60 144.25) scale(1 1.1)" font-size="6.8" font-weight="normal" text-anchor="start" fill="#111" stroke="#111" stroke-width="0.2" >ELOVL2</text>
<text x="0" y="0" transform="translate(473.60 150.27) scale(1 1.1)" font-size="6.8" font-weight="normal" text-anchor="start" fill="#111" stroke="#111" stroke-width="0.2" >ELOVL6</text>
<text x="0" y="0" transform="translate(473.60 156.29) scale(1 1.1)" font-size="6.8" font-weight="normal" text-anchor="start" fill="#111" stroke="#111" stroke-width="0.2" >SCP2</text>
<text x="0" y="0" transform="translate(473.60 162.31) scale(1 1.1)" font-size="6.8" font-weight="normal" text-anchor="start" fill="#111" stroke="#111" stroke-width="0.2" >ACSL3</text>
<text x="0" y="0" transform="translate(473.60 168.32) scale(1 1.1)" font-size="6.8" font-weight="normal" text-anchor="start" fill="#111" stroke="#111" stroke-width="0.2" >SCD</text>
<text x="0" y="0" transform="translate(473.60 174.34) scale(1 1.1)" font-size="6.8" font-weight="normal" text-anchor="start" fill="#111" stroke="#111" stroke-width="0.2" >HSD17B8</text>
<text x="0" y="0" transform="translate(473.60 180.36) scale(1 1.1)" font-size="6.8" font-weight="normal" text-anchor="start" fill="#111" stroke="#111" stroke-width="0.2" >ALDH3A2</text>
<text x="0" y="0" transform="translate(473.60 186.38) scale(1 1.1)" font-size="6.8" font-weight="normal" text-anchor="start" fill="#111" stroke="#111" stroke-width="0.2" >ELOVL5</text>
<text x="0" y="0" transform="translate(473.60 192.40) scale(1 1.1)" font-size="6.8" font-weight="normal" text-anchor="start" fill="#111" stroke="#111" stroke-width="0.2" >HADHA</text>
<text x="0" y="0" transform="translate(473.60 198.41) scale(1 1.1)" font-size="6.8" font-weight="normal" text-anchor="start" fill="#111" stroke="#111" stroke-width="0.2" >ACADVL</text>
<text x="0" y="0" transform="translate(473.60 204.43) scale(1 1.1)" font-size="6.8" font-weight="normal" text-anchor="start" fill="#111" stroke="#111" stroke-width="0.2" >ACADSB</text>
<text x="0" y="0" transform="translate(473.60 210.45) scale(1 1.1)" font-size="6.8" font-weight="normal" text-anchor="start" fill="#111" stroke="#111" stroke-width="0.2" >FASN</text>
<text x="0" y="0" transform="translate(473.60 216.47) scale(1 1.1)" font-size="6.8" font-weight="normal" text-anchor="start" fill="#111" stroke="#111" stroke-width="0.2" >FADS1</text>
<text x="0" y="0" transform="translate(473.60 222.49) scale(1 1.1)" font-size="6.8" font-weight="normal" text-anchor="start" fill="#111" stroke="#111" stroke-width="0.2" >ACAT2</text>
<text x="0" y="0" transform="translate(473.60 228.50) scale(1 1.1)" font-size="6.8" font-weight="normal" text-anchor="start" fill="#111" stroke="#111" stroke-width="0.2" >HACD4</text>
<text x="0" y="0" transform="translate(473.60 234.52) scale(1 1.1)" font-size="6.8" font-weight="normal" text-anchor="start" fill="#111" stroke="#111" stroke-width="0.2" >HADHB</text>
<text x="0" y="0" transform="translate(473.60 240.54) scale(1 1.1)" font-size="6.8" font-weight="normal" text-anchor="start" fill="#111" stroke="#111" stroke-width="0.2" >ACOT7</text>
<text x="0" y="0" transform="translate(473.60 246.56) scale(1 1.1)" font-size="6.8" font-weight="normal" text-anchor="start" fill="#111" stroke="#111" stroke-width="0.2" >PPT1</text>
<text x="0" y="0" transform="translate(473.60 252.58) scale(1 1.1)" font-size="6.8" font-weight="normal" text-anchor="start" fill="#111" stroke="#111" stroke-width="0.2" >CPT1B</text>
<text x="0" y="0" transform="translate(473.60 258.59) scale(1 1.1)" font-size="6.8" font-weight="normal" text-anchor="start" fill="#111" stroke="#111" stroke-width="0.2" >ELOVL1</text>
<text x="0" y="0" transform="translate(473.60 264.61) scale(1 1.1)" font-size="6.8" font-weight="normal" text-anchor="start" fill="#111" stroke="#111" stroke-width="0.2" >GCDH</text>
<text x="0" y="0" transform="translate(473.60 270.63) scale(1 1.1)" font-size="6.8" font-weight="normal" text-anchor="start" fill="#111" stroke="#111" stroke-width="0.2" >ADH5</text>
<text x="0" y="0" transform="translate(473.60 276.65) scale(1 1.1)" font-size="6.8" font-weight="normal" text-anchor="start" fill="#111" stroke="#111" stroke-width="0.2" >ECHS1</text>
<text x="0" y="0" transform="translate(473.60 282.67) scale(1 1.1)" font-size="6.8" font-weight="normal" text-anchor="start" fill="#111" stroke="#111" stroke-width="0.2" >PPT2</text>
<text x="0" y="0" transform="translate(473.60 288.68) scale(1 1.1)" font-size="6.8" font-weight="normal" text-anchor="start" fill="#111" stroke="#111" stroke-width="0.2" >ACADS</text>
<text x="0" y="0" transform="translate(473.60 294.70) scale(1 1.1)" font-size="6.8" font-weight="normal" text-anchor="start" fill="#111" stroke="#111" stroke-width="0.2" >ACOX1</text>
<text x="0" y="0" transform="translate(473.60 300.72) scale(1 1.1)" font-size="6.8" font-weight="normal" text-anchor="start" fill="#111" stroke="#111" stroke-width="0.2" >ALDH1B1</text>
<text x="0" y="0" transform="translate(473.60 306.74) scale(1 1.1)" font-size="6.8" font-weight="normal" text-anchor="start" fill="#111" stroke="#111" stroke-width="0.2" >HACD3</text>
<text x="0" y="0" transform="translate(473.60 312.76) scale(1 1.1)" font-size="6.8" font-weight="normal" text-anchor="start" fill="#111" stroke="#111" stroke-width="0.2" >ACAA2</text>
<text x="0" y="0" transform="translate(473.60 318.77) scale(1 1.1)" font-size="6.8" font-weight="normal" text-anchor="start" fill="#111" stroke="#111" stroke-width="0.2" >HACD2</text>
<text x="0" y="0" transform="translate(473.60 324.79) scale(1 1.1)" font-size="6.8" font-weight="normal" text-anchor="start" fill="#111" stroke="#111" stroke-width="0.2" >MCAT</text>
<text x="0" y="0" transform="translate(473.60 330.81) scale(1 1.1)" font-size="6.8" font-weight="normal" text-anchor="start" fill="#111" stroke="#111" stroke-width="0.2" >ACOX3</text>
<text x="0" y="0" transform="translate(473.60 336.83) scale(1 1.1)" font-size="6.8" font-weight="normal" text-anchor="start" fill="#111" stroke="#111" stroke-width="0.2" >HADH</text>
<text x="0" y="0" transform="translate(473.60 342.85) scale(1 1.1)" font-size="6.8" font-weight="normal" text-anchor="start" fill="#111" stroke="#111" stroke-width="0.2" >EHHADH</text>
<text x="0" y="0" transform="translate(473.60 348.86) scale(1 1.1)" font-size="6.8" font-weight="normal" text-anchor="start" fill="#111" stroke="#111" stroke-width="0.2" >HSD17B12</text>
<text x="0" y="0" transform="translate(473.60 354.88) scale(1 1.1)" font-size="6.8" font-weight="normal" text-anchor="start" fill="#111" stroke="#111" stroke-width="0.2" >ACSL1</text>
<text x="0" y="0" transform="translate(473.60 360.90) scale(1 1.1)" font-size="6.8" font-weight="normal" text-anchor="start" fill="#111" stroke="#111" stroke-width="0.2" >ACAA1</text>
<text x="0" y="0" transform="translate(473.60 366.92) scale(1 1.1)" font-size="6.8" font-weight="normal" text-anchor="start" fill="#111" stroke="#111" stroke-width="0.2" >FADS2</text>
<text x="0" y="0" transform="translate(473.60 372.94) scale(1 1.1)" font-size="6.8" font-weight="normal" text-anchor="start" fill="#111" stroke="#111" stroke-width="0.2" >CPT1A</text>
<text x="0" y="0" transform="translate(473.60 378.95) scale(1 1.1)" font-size="6.8" font-weight="normal" text-anchor="start" fill="#111" stroke="#111" stroke-width="0.2" >ELOVL3</text>
<text x="0" y="0" transform="translate(473.60 384.97) scale(1 1.1)" font-size="6.8" font-weight="normal" text-anchor="start" fill="#111" stroke="#111" stroke-width="0.2" >CPT1C</text>
<text x="0" y="0" transform="translate(473.60 390.99) scale(1 1.1)" font-size="6.8" font-weight="normal" text-anchor="start" fill="#111" stroke="#111" stroke-width="0.2" >ACSL4</text>
<text x="0" y="0" transform="translate(473.60 397.01) scale(1 1.1)" font-size="6.8" font-weight="normal" text-anchor="start" fill="#111" stroke="#111" stroke-width="0.2" >SCD5</text>
<path d="M392.00 45.35L392.00 51.36M392.00 45.35L396.50 45.35M392.00 51.36L396.50 51.36M388.00 39.33L388.00 48.35M388.00 39.33L396.50 39.33M388.00 48.35L392.00 48.35M394.20 57.38L394.20 63.40M394.20 57.38L396.50 57.38M394.20 63.40L396.50 63.40M393.74 60.39L393.74 69.42M393.74 60.39L394.20 60.39M393.74 69.42L396.50 69.42M394.20 75.44L394.20 81.45M394.20 75.44L396.50 75.44M394.20 81.45L396.50 81.45M393.74 78.44L393.74 87.47M393.74 78.44L394.20 78.44M393.74 87.47L396.50 87.47M392.94 64.90L392.94 82.96M392.94 64.90L393.74 64.90M392.94 82.96L393.74 82.96M394.20 93.49L394.20 99.51M394.20 93.49L396.50 93.49M394.20 99.51L396.50 99.51M393.74 96.50L393.74 105.53M393.74 96.50L394.20 96.50M393.74 105.53L396.50 105.53M394.20 111.54L394.20 117.56M394.20 111.54L396.50 111.54M394.20 117.56L396.50 117.56M393.15 101.01L393.15 114.55M393.15 101.01L393.74 101.01M393.15 114.55L394.20 114.55M392.24 73.93L392.24 107.78M392.24 73.93L392.94 73.93M392.24 107.78L393.15 107.78M394.20 123.58L394.20 129.60M394.20 123.58L396.50 123.58M394.20 129.60L396.50 129.60M393.74 126.59L393.74 135.62M393.74 126.59L394.20 126.59M393.74 135.62L396.50 135.62M394.20 141.63L394.20 147.65M394.20 141.63L396.50 141.63M394.20 147.65L396.50 147.65M393.15 131.10L393.15 144.64M393.15 131.10L393.74 131.10M393.15 144.64L394.20 144.64M394.20 153.67L394.20 159.69M394.20 153.67L396.50 153.67M394.20 159.69L396.50 159.69M393.74 156.68L393.74 165.71M393.74 156.68L394.20 156.68M393.74 165.71L396.50 165.71M394.20 171.72L394.20 177.74M394.20 171.72L396.50 171.72M394.20 177.74L396.50 177.74M393.15 161.19L393.15 174.73M393.15 161.19L393.74 161.19M393.15 174.73L394.20 174.73M392.35 137.87L392.35 167.96M392.35 137.87L393.15 137.87M392.35 167.96L393.15 167.96M391.50 90.86L391.50 152.92M391.50 90.86L392.24 90.86M391.50 152.92L392.35 152.92M394.32 183.76L394.32 189.78M394.32 183.76L396.50 183.76M394.32 189.78L396.50 189.78M393.92 186.77L393.92 195.80M393.92 186.77L394.32 186.77M393.92 195.80L396.50 195.80M394.32 201.81L394.32 207.83M394.32 201.81L396.50 201.81M394.32 207.83L396.50 207.83M393.92 204.82L393.92 213.85M393.92 204.82L394.32 204.82M393.92 213.85L396.50 213.85M393.23 191.28L393.23 209.34M393.23 191.28L393.92 191.28M393.23 209.34L393.92 209.34M394.32 219.87L394.32 225.89M394.32 219.87L396.50 219.87M394.32 225.89L396.50 225.89M393.92 222.88L393.92 231.90M393.92 222.88L394.32 222.88M393.92 231.90L396.50 231.90M394.32 237.92L394.32 243.94M394.32 237.92L396.50 237.92M394.32 243.94L396.50 243.94M393.41 227.39L393.41 240.93M393.41 227.39L393.92 227.39M393.41 240.93L394.32 240.93M392.64 200.31L392.64 234.16M392.64 200.31L393.23 200.31M392.64 234.16L393.41 234.16M394.32 249.96L394.32 255.98M394.32 249.96L396.50 249.96M394.32 255.98L396.50 255.98M393.92 252.97L393.92 261.99M393.92 252.97L394.32 252.97M393.92 261.99L396.50 261.99M394.32 268.01L394.32 274.03M394.32 268.01L396.50 268.01M394.32 274.03L396.50 274.03M393.41 257.48L393.41 271.02M393.41 257.48L393.92 257.48M393.41 271.02L394.32 271.02M394.32 280.05L394.32 286.07M394.32 280.05L396.50 280.05M394.32 286.07L396.50 286.07M393.92 283.06L393.92 292.08M393.92 283.06L394.32 283.06M393.92 292.08L396.50 292.08M394.32 298.10L394.32 304.12M394.32 298.10L396.50 298.10M394.32 304.12L396.50 304.12M393.41 287.57L393.41 301.11M393.41 287.57L393.92 287.57M393.41 301.11L394.32 301.11M392.73 264.25L392.73 294.34M392.73 264.25L393.41 264.25M392.73 294.34L393.41 294.34M392.00 217.24L392.00 279.30M392.00 217.24L392.64 217.24M392.00 279.30L392.73 279.30M389.60 121.89L389.60 248.27M389.60 121.89L391.50 121.89M389.60 248.27L392.00 248.27M394.10 310.14L394.10 316.16M394.10 310.14L396.50 310.14M394.10 316.16L396.50 316.16M393.57 313.15L393.57 322.17M393.57 313.15L394.10 313.15M393.57 322.17L396.50 322.17M394.10 328.19L394.10 334.21M394.10 328.19L396.50 328.19M394.10 334.21L396.50 334.21M392.90 317.66L392.90 331.20M392.90 317.66L393.57 317.66M392.90 331.20L394.10 331.20M394.10 340.23L394.10 346.25M394.10 340.23L396.50 340.23M394.10 346.25L396.50 346.25M393.57 343.24L393.57 352.26M393.57 343.24L394.10 343.24M393.57 352.26L396.50 352.26M394.10 358.28L394.10 364.30M394.10 358.28L396.50 358.28M394.10 364.30L396.50 364.30M392.90 347.75L392.90 361.29M392.90 347.75L393.57 347.75M392.90 361.29L394.10 361.29M392.00 324.43L392.00 354.52M392.00 324.43L392.90 324.43M392.00 354.52L392.90 354.52M393.71 370.32L393.71 376.34M393.71 370.32L396.50 370.32M393.71 376.34L396.50 376.34M392.95 373.33L392.95 382.35M392.95 373.33L393.71 373.33M392.95 382.35L396.50 382.35M393.71 388.37L393.71 394.39M393.71 388.37L396.50 388.37M393.71 394.39L396.50 394.39M392.00 377.84L392.00 391.38M392.00 377.84L392.95 377.84M392.00 391.38L393.71 391.38M389.00 339.48L389.00 384.61M389.00 339.48L392.00 339.48M389.00 384.61L392.00 384.61M385.60 185.08L385.60 362.04M385.60 185.08L389.60 185.08M385.60 362.04L389.00 362.04M379.60 43.84L379.60 273.56M379.60 43.84L388.00 43.84M379.60 273.56L385.60 273.56M372.40 33.31L372.40 158.70M372.40 33.31L396.50 33.31M372.40 158.70L379.60 158.70" stroke="#7a7a7a" stroke-width="0.65" fill="none"/>
<defs><linearGradient id="gC" x1="0" y1="0" x2="0" y2="1"><stop offset="0" stop-color="#ff0000"/><stop offset="0.5" stop-color="#ffffff"/><stop offset="0.55" stop-color="#e6e6f7"/><stop offset="0.60" stop-color="#cccced"/><stop offset="0.65" stop-color="#b2b2e1"/><stop offset="0.70" stop-color="#9999d5"/><stop offset="0.75" stop-color="#8080c8"/><stop offset="0.80" stop-color="#6666ba"/><stop offset="0.85" stop-color="#4c4cac"/><stop offset="0.90" stop-color="#33339e"/><stop offset="0.95" stop-color="#19198f"/><stop offset="1.00" stop-color="#000080"/></linearGradient></defs>
<rect x="510.9" y="29.8" width="4.2" height="69.7" fill="url(#gC)"/>
<text x="517.30" y="32.99" font-size="7.2" font-weight="normal" text-anchor="start" fill="#111" stroke="#111" stroke-width="0.1" >3</text>
<text x="517.30" y="44.61" font-size="7.2" font-weight="normal" text-anchor="start" fill="#111" stroke="#111" stroke-width="0.1" >2</text>
<text x="517.30" y="56.23" font-size="7.2" font-weight="normal" text-anchor="start" fill="#111" stroke="#111" stroke-width="0.1" >1</text>
<text x="517.30" y="67.84" font-size="7.2" font-weight="normal" text-anchor="start" fill="#111" stroke="#111" stroke-width="0.1" >0</text>
<text x="517.30" y="79.46" font-size="7.2" font-weight="normal" text-anchor="start" fill="#111" stroke="#111" stroke-width="0.1" >-1</text>
<text x="517.30" y="91.08" font-size="7.2" font-weight="normal" text-anchor="start" fill="#111" stroke="#111" stroke-width="0.1" >-2</text>
<text x="517.30" y="102.69" font-size="7.2" font-weight="normal" text-anchor="start" fill="#111" stroke="#111" stroke-width="0.1" >-3</text>
<text x="6.60" y="14.50" font-size="13" font-weight="bold" text-anchor="start" fill="#000" font-family="'Liberation Serif', serif">A</text>
<text x="177.00" y="14.40" font-size="13" font-weight="bold" text-anchor="start" fill="#000" font-family="'Liberation Serif', serif">B</text>
<text x="355.70" y="14.50" font-size="13" font-weight="bold" text-anchor="start" fill="#000" font-family="'Liberation Serif', serif">C</text>
<text x="6.80" y="429.60" font-size="13" font-weight="bold" text-anchor="start" fill="#000" font-family="'Liberation Serif', serif">D</text>
<text x="184.00" y="430.00" font-size="13" font-weight="bold" text-anchor="start" fill="#000" font-family="'Liberation Serif', serif">E</text>
<text x="357.20" y="430.00" font-size="13" font-weight="bold" text-anchor="start" fill="#000" font-family="'Liberation Serif', serif">F</text>
<text x="19.90" y="24.30" font-size="10.3" font-weight="bold" text-anchor="start" fill="#000" >Adipogenesis-related genes</text>
<text x="203.20" y="24.30" font-size="10.3" font-weight="bold" text-anchor="start" fill="#000" >Adipogenesis-regulators</text>
<text x="384.60" y="24.30" font-size="10.3" font-weight="bold" text-anchor="start" fill="#000" >Fatty acid metabolism</text>
<text x="42.80" y="410.50" font-size="9.8" font-weight="bold" text-anchor="start" fill="#000" >SCF</text>
<text x="222.70" y="410.50" font-size="9.8" font-weight="bold" text-anchor="start" fill="#000" >SCF</text>
<text x="405.70" y="410.50" font-size="9.8" font-weight="bold" text-anchor="start" fill="#000" >SCF</text>
<text x="87.80" y="410.50" font-size="9.8" font-weight="bold" text-anchor="start" fill="#000" >IMF</text>
<text x="267.00" y="410.50" font-size="9.8" font-weight="bold" text-anchor="start" fill="#000" >IMF</text>
<text x="450.30" y="410.50" font-size="9.8" font-weight="bold" text-anchor="start" fill="#000" >IMF</text>
<rect x="20.50" y="500.20" width="2.00" height="1.00" fill="#d4d4d4" stroke="#555" stroke-width="0.5"/>
<rect x="33.20" y="497.20" width="1.90" height="4.00" fill="#d4d4d4" stroke="#555" stroke-width="0.5"/>
<rect x="35.10" y="499.50" width="1.90" height="1.70" fill="#d4d4d4" stroke="#555" stroke-width="0.5"/>
<rect x="37.00" y="497.50" width="1.70" height="3.70" fill="#d4d4d4" stroke="#555" stroke-width="0.5"/>
<rect x="38.70" y="494.30" width="1.50" height="6.90" fill="#d4d4d4" stroke="#555" stroke-width="0.5"/>
<rect x="40.20" y="494.80" width="1.50" height="6.40" fill="#d4d4d4" stroke="#555" stroke-width="0.5"/>
<rect x="41.70" y="478.80" width="1.90" height="22.40" fill="#d4d4d4" stroke="#555" stroke-width="0.5"/>
<rect x="43.60" y="491.10" width="2.20" height="10.10" fill="#d4d4d4" stroke="#555" stroke-width="0.5"/>
<rect x="45.80" y="479.10" width="2.80" height="22.10" fill="#d4d4d4" stroke="#555" stroke-width="0.5"/>
<rect x="48.60" y="494.30" width="1.80" height="6.90" fill="#d4d4d4" stroke="#555" stroke-width="0.5"/>
<rect x="50.40" y="496.20" width="2.20" height="5.00" fill="#d4d4d4" stroke="#555" stroke-width="0.5"/>
<rect x="52.60" y="499.00" width="2.40" height="2.20" fill="#d4d4d4" stroke="#555" stroke-width="0.5"/>
<rect x="62.70" y="500.20" width="2.00" height="1.00" fill="#d4d4d4" stroke="#555" stroke-width="0.5"/>
<rect x="67.00" y="500.20" width="2.00" height="1.00" fill="#d4d4d4" stroke="#555" stroke-width="0.5"/>
<rect x="75.20" y="500.20" width="2.00" height="1.00" fill="#d4d4d4" stroke="#555" stroke-width="0.5"/>
<path d="M38.00 500.60H50.00" stroke="#222" stroke-width="0.8"/>
<path d="M18.80 500.60 L21.60 499.60 L24.50 500.60 L28.00 499.90 L30.00 499.50 L33.00 498.50 L35.00 497.60 L37.00 497.00 L39.00 493.00 L41.00 485.00 L43.50 478.80 L45.30 483.00 L47.40 488.00 L49.60 493.00 L52.00 497.50 L54.00 499.50 L56.00 499.60 L58.00 500.50 L61.00 500.60 L63.70 499.60 L66.00 500.60 L68.00 499.60 L70.00 500.60 L74.00 500.60 L76.20 499.50 L78.00 500.60 L79.60 500.60" stroke="#ee4444" stroke-width="0.8" fill="none" stroke-linejoin="round"/>
<rect x="82.40" y="531.90" width="3.10" height="2.50" fill="#d4d4d4" stroke="#555" stroke-width="0.5"/>
<rect x="85.50" y="532.50" width="4.50" height="1.90" fill="#d4d4d4" stroke="#555" stroke-width="0.5"/>
<rect x="90.00" y="531.30" width="5.00" height="3.10" fill="#d4d4d4" stroke="#555" stroke-width="0.5"/>
<rect x="95.00" y="525.00" width="4.30" height="9.40" fill="#d4d4d4" stroke="#555" stroke-width="0.5"/>
<rect x="99.30" y="520.00" width="5.00" height="14.40" fill="#d4d4d4" stroke="#555" stroke-width="0.5"/>
<rect x="104.30" y="505.50" width="3.80" height="28.90" fill="#d4d4d4" stroke="#555" stroke-width="0.5"/>
<rect x="108.10" y="505.50" width="3.80" height="28.90" fill="#d4d4d4" stroke="#555" stroke-width="0.5"/>
<rect x="111.90" y="511.80" width="5.00" height="22.60" fill="#d4d4d4" stroke="#555" stroke-width="0.5"/>
<rect x="116.90" y="525.60" width="4.40" height="8.80" fill="#d4d4d4" stroke="#555" stroke-width="0.5"/>
<rect x="121.30" y="531.30" width="5.00" height="3.10" fill="#d4d4d4" stroke="#555" stroke-width="0.5"/>
<rect x="126.30" y="532.00" width="4.70" height="2.40" fill="#d4d4d4" stroke="#555" stroke-width="0.5"/>
<rect x="131.00" y="531.30" width="4.70" height="3.10" fill="#d4d4d4" stroke="#555" stroke-width="0.5"/>
<rect x="135.70" y="532.00" width="3.80" height="2.40" fill="#d4d4d4" stroke="#555" stroke-width="0.5"/>
<path d="M100.00 533.80H116.00" stroke="#222" stroke-width="0.8"/>
<path d="M80.60 533.50 L83.00 531.50 L86.00 531.30 L90.50 530.80 L95.00 528.00 L99.30 523.00 L102.00 515.00 L104.00 508.00 L106.00 503.00 L109.00 501.80 L111.00 502.50 L113.00 507.00 L115.50 515.00 L117.50 524.00 L120.00 530.00 L123.00 531.60 L126.00 531.50 L130.00 530.60 L133.00 531.00 L136.00 531.70 L140.70 533.70" stroke="#ee4444" stroke-width="0.8" fill="none" stroke-linejoin="round"/>
<circle cx="29.60" cy="506.50" r="1.3" fill="none" stroke="#222" stroke-width="0.6"/>
<circle cx="48.60" cy="503.60" r="1.3" fill="none" stroke="#222" stroke-width="0.6"/>
<circle cx="69.30" cy="503.00" r="1.3" fill="none" stroke="#222" stroke-width="0.6"/>
<circle cx="36.50" cy="511.20" r="1.3" fill="none" stroke="#222" stroke-width="0.6"/>
<circle cx="32.30" cy="514.10" r="1.3" fill="none" stroke="#222" stroke-width="0.6"/>
<circle cx="20.80" cy="519.10" r="1.3" fill="none" stroke="#222" stroke-width="0.6"/>
<circle cx="32.30" cy="522.50" r="1.3" fill="none" stroke="#222" stroke-width="0.6"/>
<circle cx="77.50" cy="515.60" r="1.3" fill="none" stroke="#222" stroke-width="0.6"/>
<circle cx="64.30" cy="524.30" r="1.3" fill="none" stroke="#222" stroke-width="0.6"/>
<circle cx="39.20" cy="526.90" r="1.3" fill="none" stroke="#222" stroke-width="0.6"/>
<circle cx="42.30" cy="531.60" r="1.3" fill="none" stroke="#222" stroke-width="0.6"/>
<circle cx="49.20" cy="526.90" r="1.3" fill="none" stroke="#222" stroke-width="0.6"/>
<circle cx="49.60" cy="530.00" r="1.3" fill="none" stroke="#222" stroke-width="0.6"/>
<circle cx="49.20" cy="533.10" r="1.3" fill="none" stroke="#222" stroke-width="0.6"/>
<circle cx="54.90" cy="518.00" r="1.3" fill="none" stroke="#222" stroke-width="0.6"/>
<circle cx="51.80" cy="516.60" r="1.3" fill="none" stroke="#222" stroke-width="0.6"/>
<circle cx="47.40" cy="513.00" r="1.3" fill="none" stroke="#222" stroke-width="0.6"/>
<circle cx="39.80" cy="524.30" r="1.3" fill="none" stroke="#222" stroke-width="0.6"/>
<circle cx="48.15" cy="522.56" r="1.3" fill="none" stroke="#222" stroke-width="0.6"/>
<circle cx="44.97" cy="516.36" r="1.3" fill="none" stroke="#222" stroke-width="0.6"/>
<circle cx="41.96" cy="518.59" r="1.3" fill="none" stroke="#222" stroke-width="0.6"/>
<circle cx="42.14" cy="514.48" r="1.3" fill="none" stroke="#222" stroke-width="0.6"/>
<circle cx="45.32" cy="518.87" r="1.3" fill="none" stroke="#222" stroke-width="0.6"/>
<circle cx="46.22" cy="515.94" r="1.3" fill="none" stroke="#222" stroke-width="0.6"/>
<circle cx="44.81" cy="518.32" r="1.3" fill="none" stroke="#222" stroke-width="0.6"/>
<circle cx="40.88" cy="520.01" r="1.3" fill="none" stroke="#222" stroke-width="0.6"/>
<circle cx="45.63" cy="525.19" r="1.3" fill="none" stroke="#222" stroke-width="0.6"/>
<circle cx="45.33" cy="518.09" r="1.3" fill="none" stroke="#222" stroke-width="0.6"/>
<circle cx="48.01" cy="519.06" r="1.3" fill="none" stroke="#222" stroke-width="0.6"/>
<circle cx="47.16" cy="517.48" r="1.3" fill="none" stroke="#222" stroke-width="0.6"/>
<circle cx="45.37" cy="521.37" r="1.3" fill="none" stroke="#222" stroke-width="0.6"/>
<circle cx="46.61" cy="518.86" r="1.3" fill="none" stroke="#222" stroke-width="0.6"/>
<circle cx="41.99" cy="519.75" r="1.3" fill="none" stroke="#222" stroke-width="0.6"/>
<circle cx="45.00" cy="520.52" r="1.3" fill="none" stroke="#222" stroke-width="0.6"/>
<circle cx="45.36" cy="521.55" r="1.3" fill="none" stroke="#222" stroke-width="0.6"/>
<circle cx="44.67" cy="519.07" r="1.3" fill="none" stroke="#222" stroke-width="0.6"/>
<circle cx="46.53" cy="515.46" r="1.3" fill="none" stroke="#222" stroke-width="0.6"/>
<circle cx="43.76" cy="517.10" r="1.3" fill="none" stroke="#222" stroke-width="0.6"/>
<circle cx="49.95" cy="518.24" r="1.3" fill="none" stroke="#222" stroke-width="0.6"/>
<circle cx="46.50" cy="520.23" r="1.3" fill="none" stroke="#222" stroke-width="0.6"/>
<circle cx="44.07" cy="514.16" r="1.3" fill="none" stroke="#222" stroke-width="0.6"/>
<circle cx="47.31" cy="517.36" r="1.3" fill="none" stroke="#222" stroke-width="0.6"/>
<circle cx="46.67" cy="514.85" r="1.3" fill="none" stroke="#222" stroke-width="0.6"/>
<circle cx="43.66" cy="522.02" r="1.3" fill="none" stroke="#222" stroke-width="0.6"/>
<circle cx="48.52" cy="514.85" r="1.3" fill="none" stroke="#222" stroke-width="0.6"/>
<circle cx="41.33" cy="518.38" r="1.3" fill="none" stroke="#222" stroke-width="0.6"/>
<circle cx="46.69" cy="518.95" r="1.3" fill="none" stroke="#222" stroke-width="0.6"/>
<circle cx="45.59" cy="515.73" r="1.3" fill="none" stroke="#222" stroke-width="0.6"/>
<circle cx="46.33" cy="521.63" r="1.3" fill="none" stroke="#222" stroke-width="0.6"/>
<circle cx="43.67" cy="514.49" r="1.3" fill="none" stroke="#222" stroke-width="0.6"/>
<circle cx="42.83" cy="520.63" r="1.3" fill="none" stroke="#222" stroke-width="0.6"/>
<circle cx="40.29" cy="518.24" r="1.3" fill="none" stroke="#222" stroke-width="0.6"/>
<circle cx="42.22" cy="518.13" r="1.3" fill="none" stroke="#222" stroke-width="0.6"/>
<circle cx="44.16" cy="518.54" r="1.3" fill="none" stroke="#222" stroke-width="0.6"/>
<circle cx="48.70" cy="519.68" r="1.3" fill="none" stroke="#222" stroke-width="0.6"/>
<circle cx="48.27" cy="518.10" r="1.3" fill="none" stroke="#222" stroke-width="0.6"/>
<circle cx="43.55" cy="519.56" r="1.3" fill="none" stroke="#222" stroke-width="0.6"/>
<circle cx="37.43" cy="518.39" r="1.3" fill="none" stroke="#222" stroke-width="0.6"/>
<path d="M20.80 517.10 L26.00 516.80 L32.30 516.20 L36.00 517.50 L39.00 519.00 L41.10 520.00 L43.50 519.20 L47.40 518.00 L52.00 517.80 L56.20 518.30 L62.00 518.30 L69.00 517.80 L77.50 516.80" stroke="#ee4444" stroke-width="0.8" fill="none"/>
<rect x="18.50" y="468.80" width="61.50" height="32.40" fill="none" stroke="#707070" stroke-width="1.0"/>
<rect x="80.00" y="468.80" width="61.20" height="32.40" fill="none" stroke="#707070" stroke-width="1.0"/>
<rect x="18.50" y="501.20" width="61.50" height="33.20" fill="none" stroke="#707070" stroke-width="1.0"/>
<rect x="80.00" y="501.20" width="61.20" height="33.20" fill="none" stroke="#707070" stroke-width="1.0"/>
<path d="M88.60 468.80V466.00M98.52 468.80V466.00M108.44 468.80V466.00M118.36 468.80V466.00M128.28 468.80V466.00M138.20 468.80V466.00M20.90 534.40V537.20M32.02 534.40V537.20M43.14 534.40V537.20M54.26 534.40V537.20M65.38 534.40V537.20M76.50 534.40V537.20M141.20 470.40H143.80M141.20 476.40H143.80M141.20 482.40H143.80M141.20 488.40H143.80M141.20 494.40H143.80M141.20 500.40H143.80M18.50 503.45H15.90M18.50 508.70H15.90M18.50 513.95H15.90M18.50 519.20H15.90M18.50 524.45H15.90M18.50 529.70H15.90" stroke="#555" stroke-width="0.5" fill="none"/>
<text x="88.60" y="462.04" font-size="5.4" font-weight="normal" text-anchor="middle" fill="#2a2a2a" >-2</text>
<text x="98.52" y="462.04" font-size="5.4" font-weight="normal" text-anchor="middle" fill="#2a2a2a" >-1</text>
<text x="108.44" y="462.04" font-size="5.4" font-weight="normal" text-anchor="middle" fill="#2a2a2a" >0</text>
<text x="118.36" y="462.04" font-size="5.4" font-weight="normal" text-anchor="middle" fill="#2a2a2a" >1</text>
<text x="128.28" y="462.04" font-size="5.4" font-weight="normal" text-anchor="middle" fill="#2a2a2a" >2</text>
<text x="138.20" y="462.04" font-size="5.4" font-weight="normal" text-anchor="middle" fill="#2a2a2a" >3</text>
<text x="20.90" y="546.04" font-size="5.4" font-weight="normal" text-anchor="middle" fill="#2a2a2a" >-2</text>
<text x="32.02" y="546.04" font-size="5.4" font-weight="normal" text-anchor="middle" fill="#2a2a2a" >-1</text>
<text x="43.14" y="546.04" font-size="5.4" font-weight="normal" text-anchor="middle" fill="#2a2a2a" >0</text>
<text x="54.26" y="546.04" font-size="5.4" font-weight="normal" text-anchor="middle" fill="#2a2a2a" >1</text>
<text x="65.38" y="546.04" font-size="5.4" font-weight="normal" text-anchor="middle" fill="#2a2a2a" >2</text>
<text x="76.50" y="546.04" font-size="5.4" font-weight="normal" text-anchor="middle" fill="#2a2a2a" >3</text>
<text x="0" y="0" font-size="5.4" text-anchor="middle" fill="#2a2a2a" transform="translate(149.60 476.40) rotate(-90) translate(0 1.94)">2</text>
<text x="0" y="0" font-size="5.4" text-anchor="middle" fill="#2a2a2a" transform="translate(149.60 488.40) rotate(-90) translate(0 1.94)">0</text>
<text x="0" y="0" font-size="5.4" text-anchor="middle" fill="#2a2a2a" transform="translate(149.60 500.40) rotate(-90) translate(0 1.94)">-2</text>
<text x="0" y="0" font-size="5.4" text-anchor="middle" fill="#2a2a2a" transform="translate(9.60 508.70) rotate(-90) translate(0 1.94)">2</text>
<text x="0" y="0" font-size="5.4" text-anchor="middle" fill="#2a2a2a" transform="translate(9.60 519.20) rotate(-90) translate(0 1.94)">0</text>
<text x="0" y="0" font-size="5.4" text-anchor="middle" fill="#2a2a2a" transform="translate(9.60 529.70) rotate(-90) translate(0 1.94)">-2</text>
<text x="49.20" y="477.00" font-size="9.9" font-weight="normal" text-anchor="middle" fill="#000" stroke="#000" stroke-width="0.15" >SCF</text>
<text x="110.60" y="510.60" font-size="9.9" font-weight="normal" text-anchor="middle" fill="#000" stroke="#000" stroke-width="0.15" >IMF</text>
<text x="110.40" y="487.90" font-size="7.9" font-weight="normal" text-anchor="middle" fill="#111" stroke="#111" stroke-width="0.15" >0.093</text>
<rect x="216.00" y="496.50" width="3.50" height="1.70" fill="#d4d4d4" stroke="#555" stroke-width="0.5"/>
<rect x="226.30" y="494.00" width="3.80" height="4.20" fill="#d4d4d4" stroke="#555" stroke-width="0.5"/>
<rect x="230.10" y="477.10" width="3.10" height="21.10" fill="#d4d4d4" stroke="#555" stroke-width="0.5"/>
<rect x="233.20" y="466.40" width="3.80" height="31.80" fill="#d4d4d4" stroke="#555" stroke-width="0.5"/>
<rect x="237.00" y="466.40" width="3.70" height="31.80" fill="#d4d4d4" stroke="#555" stroke-width="0.5"/>
<rect x="240.70" y="483.30" width="5.10" height="14.90" fill="#d4d4d4" stroke="#555" stroke-width="0.5"/>
<rect x="246.00" y="497.00" width="4.00" height="1.20" fill="#d4d4d4" stroke="#555" stroke-width="0.5"/>
<rect x="250.00" y="496.80" width="4.00" height="1.40" fill="#d4d4d4" stroke="#555" stroke-width="0.5"/>
<rect x="258.00" y="497.50" width="4.00" height="0.70" fill="#d4d4d4" stroke="#555" stroke-width="0.5"/>
<rect x="267.00" y="496.50" width="4.00" height="1.70" fill="#d4d4d4" stroke="#555" stroke-width="0.5"/>
<path d="M231.00 497.60H245.00" stroke="#222" stroke-width="0.8"/>
<path d="M212.80 497.00 L215.00 496.60 L216.90 495.80 L219.00 496.60 L222.00 497.00 L225.00 496.40 L227.60 494.60 L229.50 490.00 L231.00 482.00 L232.50 474.00 L234.00 468.50 L235.70 466.40 L237.50 467.00 L239.00 470.00 L240.70 476.00 L242.50 484.00 L244.50 492.00 L246.40 495.80 L248.00 496.60 L250.20 495.00 L252.50 496.60 L255.50 497.00 L258.30 495.70 L261.00 496.80 L265.00 496.60 L269.00 495.00 L271.00 496.00 L273.20 497.20" stroke="#ee4444" stroke-width="0.8" fill="none" stroke-linejoin="round"/>
<rect x="275.60" y="528.90" width="4.40" height="2.20" fill="#d4d4d4" stroke="#555" stroke-width="0.5"/>
<rect x="298.20" y="525.70" width="3.80" height="5.40" fill="#d4d4d4" stroke="#555" stroke-width="0.5"/>
<rect x="302.00" y="521.30" width="4.60" height="9.80" fill="#d4d4d4" stroke="#555" stroke-width="0.5"/>
<rect x="306.60" y="522.60" width="4.80" height="8.50" fill="#d4d4d4" stroke="#555" stroke-width="0.5"/>
<rect x="311.40" y="499.80" width="3.80" height="31.30" fill="#d4d4d4" stroke="#555" stroke-width="0.5"/>
<rect x="315.20" y="500.00" width="4.40" height="31.10" fill="#d4d4d4" stroke="#555" stroke-width="0.5"/>
<rect x="319.60" y="522.60" width="4.40" height="8.50" fill="#d4d4d4" stroke="#555" stroke-width="0.5"/>
<rect x="328.30" y="528.90" width="4.40" height="2.20" fill="#d4d4d4" stroke="#555" stroke-width="0.5"/>
<path d="M308.00 530.50H322.00" stroke="#222" stroke-width="0.8"/>
<path d="M273.80 530.50 L276.00 529.50 L278.20 528.60 L281.00 530.00 L285.00 530.40 L290.00 530.40 L295.00 529.80 L300.10 526.50 L304.50 525.00 L307.60 522.50 L310.00 515.00 L312.00 506.00 L314.50 499.40 L317.00 501.00 L320.20 511.80 L322.00 520.00 L324.00 527.60 L326.50 530.10 L329.00 529.50 L331.50 528.60 L333.50 529.50 L334.90 530.50" stroke="#ee4444" stroke-width="0.8" fill="none" stroke-linejoin="round"/>
<circle cx="214.80" cy="516.30" r="1.3" fill="none" stroke="#222" stroke-width="0.6"/>
<circle cx="226.30" cy="518.20" r="1.3" fill="none" stroke="#222" stroke-width="0.6"/>
<circle cx="227.60" cy="508.60" r="1.3" fill="none" stroke="#222" stroke-width="0.6"/>
<circle cx="271.50" cy="500.00" r="1.3" fill="none" stroke="#222" stroke-width="0.6"/>
<circle cx="271.50" cy="510.70" r="1.3" fill="none" stroke="#222" stroke-width="0.6"/>
<circle cx="258.30" cy="507.50" r="1.3" fill="none" stroke="#222" stroke-width="0.6"/>
<circle cx="251.40" cy="515.10" r="1.3" fill="none" stroke="#222" stroke-width="0.6"/>
<circle cx="249.90" cy="518.80" r="1.3" fill="none" stroke="#222" stroke-width="0.6"/>
<circle cx="245.80" cy="516.60" r="1.3" fill="none" stroke="#222" stroke-width="0.6"/>
<circle cx="242.00" cy="516.30" r="1.3" fill="none" stroke="#222" stroke-width="0.6"/>
<circle cx="239.50" cy="519.50" r="1.3" fill="none" stroke="#222" stroke-width="0.6"/>
<circle cx="237.00" cy="530.10" r="1.3" fill="none" stroke="#222" stroke-width="0.6"/>
<circle cx="233.60" cy="516.30" r="1.3" fill="none" stroke="#222" stroke-width="0.6"/>
<circle cx="235.70" cy="515.10" r="1.3" fill="none" stroke="#222" stroke-width="0.6"/>
<circle cx="242.60" cy="505.70" r="1.3" fill="none" stroke="#222" stroke-width="0.6"/>
<circle cx="245.85" cy="508.01" r="1.3" fill="none" stroke="#222" stroke-width="0.6"/>
<circle cx="238.08" cy="509.46" r="1.3" fill="none" stroke="#222" stroke-width="0.6"/>
<circle cx="239.84" cy="506.68" r="1.3" fill="none" stroke="#222" stroke-width="0.6"/>
<circle cx="234.84" cy="507.85" r="1.3" fill="none" stroke="#222" stroke-width="0.6"/>
<circle cx="232.20" cy="507.68" r="1.3" fill="none" stroke="#222" stroke-width="0.6"/>
<circle cx="234.45" cy="508.68" r="1.3" fill="none" stroke="#222" stroke-width="0.6"/>
<circle cx="232.87" cy="509.96" r="1.3" fill="none" stroke="#222" stroke-width="0.6"/>
<circle cx="234.31" cy="503.44" r="1.3" fill="none" stroke="#222" stroke-width="0.6"/>
<circle cx="241.26" cy="508.49" r="1.3" fill="none" stroke="#222" stroke-width="0.6"/>
<circle cx="233.53" cy="509.68" r="1.3" fill="none" stroke="#222" stroke-width="0.6"/>
<circle cx="237.42" cy="509.30" r="1.3" fill="none" stroke="#222" stroke-width="0.6"/>
<circle cx="233.08" cy="509.54" r="1.3" fill="none" stroke="#222" stroke-width="0.6"/>
<circle cx="230.35" cy="511.80" r="1.3" fill="none" stroke="#222" stroke-width="0.6"/>
<circle cx="231.44" cy="508.83" r="1.3" fill="none" stroke="#222" stroke-width="0.6"/>
<circle cx="236.58" cy="509.59" r="1.3" fill="none" stroke="#222" stroke-width="0.6"/>
<circle cx="235.51" cy="510.07" r="1.3" fill="none" stroke="#222" stroke-width="0.6"/>
<circle cx="221.96" cy="508.78" r="1.3" fill="none" stroke="#222" stroke-width="0.6"/>
<circle cx="235.34" cy="508.19" r="1.3" fill="none" stroke="#222" stroke-width="0.6"/>
<circle cx="242.10" cy="507.21" r="1.3" fill="none" stroke="#222" stroke-width="0.6"/>
<circle cx="235.65" cy="505.30" r="1.3" fill="none" stroke="#222" stroke-width="0.6"/>
<circle cx="237.07" cy="506.03" r="1.3" fill="none" stroke="#222" stroke-width="0.6"/>
<circle cx="229.67" cy="513.23" r="1.3" fill="none" stroke="#222" stroke-width="0.6"/>
<circle cx="238.80" cy="508.95" r="1.3" fill="none" stroke="#222" stroke-width="0.6"/>
<circle cx="236.66" cy="506.35" r="1.3" fill="none" stroke="#222" stroke-width="0.6"/>
<circle cx="231.73" cy="509.73" r="1.3" fill="none" stroke="#222" stroke-width="0.6"/>
<circle cx="227.42" cy="509.46" r="1.3" fill="none" stroke="#222" stroke-width="0.6"/>
<circle cx="228.95" cy="509.18" r="1.3" fill="none" stroke="#222" stroke-width="0.6"/>
<circle cx="231.47" cy="512.16" r="1.3" fill="none" stroke="#222" stroke-width="0.6"/>
<circle cx="240.09" cy="508.02" r="1.3" fill="none" stroke="#222" stroke-width="0.6"/>
<circle cx="228.30" cy="507.53" r="1.3" fill="none" stroke="#222" stroke-width="0.6"/>
<circle cx="235.74" cy="507.15" r="1.3" fill="none" stroke="#222" stroke-width="0.6"/>
<circle cx="237.12" cy="510.77" r="1.3" fill="none" stroke="#222" stroke-width="0.6"/>
<circle cx="235.75" cy="508.17" r="1.3" fill="none" stroke="#222" stroke-width="0.6"/>
<circle cx="239.15" cy="508.42" r="1.3" fill="none" stroke="#222" stroke-width="0.6"/>
<circle cx="239.42" cy="508.38" r="1.3" fill="none" stroke="#222" stroke-width="0.6"/>
<circle cx="242.54" cy="508.45" r="1.3" fill="none" stroke="#222" stroke-width="0.6"/>
<circle cx="231.67" cy="509.14" r="1.3" fill="none" stroke="#222" stroke-width="0.6"/>
<circle cx="233.41" cy="507.25" r="1.3" fill="none" stroke="#222" stroke-width="0.6"/>
<circle cx="235.47" cy="510.34" r="1.3" fill="none" stroke="#222" stroke-width="0.6"/>
<circle cx="227.20" cy="508.89" r="1.3" fill="none" stroke="#222" stroke-width="0.6"/>
<path d="M214.80 515.70 L220.00 512.50 L226.30 509.40 L233.00 509.40 L240.00 509.60 L243.20 510.00 L245.10 511.30 L255.00 510.00 L265.00 508.80 L271.50 508.20" stroke="#ee4444" stroke-width="0.8" fill="none"/>
<rect x="212.50" y="465.80" width="61.00" height="32.40" fill="none" stroke="#707070" stroke-width="1.0"/>
<rect x="273.50" y="465.80" width="61.70" height="32.40" fill="none" stroke="#707070" stroke-width="1.0"/>
<rect x="212.50" y="498.20" width="61.00" height="32.90" fill="none" stroke="#707070" stroke-width="1.0"/>
<rect x="273.50" y="498.20" width="61.70" height="32.90" fill="none" stroke="#707070" stroke-width="1.0"/>
<path d="M276.90 465.80V463.00M286.42 465.80V463.00M295.94 465.80V463.00M305.46 465.80V463.00M314.98 465.80V463.00M324.50 465.80V463.00M334.02 465.80V463.00M215.70 531.10V533.90M225.90 531.10V533.90M236.20 531.10V533.90M246.50 531.10V533.90M257.20 531.10V533.90M267.90 531.10V533.90M335.20 469.40H337.80M335.20 474.80H337.80M335.20 480.30H337.80M335.20 485.90H337.80M335.20 491.40H337.80M335.20 496.80H337.80M212.50 499.40H209.90M212.50 504.50H209.90M212.50 509.70H209.90M212.50 514.80H209.90M212.50 519.90H209.90M212.50 525.10H209.90M212.50 530.20H209.90" stroke="#555" stroke-width="0.5" fill="none"/>
<text x="276.90" y="459.04" font-size="5.4" font-weight="normal" text-anchor="middle" fill="#2a2a2a" >-4</text>
<text x="286.42" y="459.04" font-size="5.4" font-weight="normal" text-anchor="middle" fill="#2a2a2a" >-3</text>
<text x="295.94" y="459.04" font-size="5.4" font-weight="normal" text-anchor="middle" fill="#2a2a2a" >-2</text>
<text x="305.46" y="459.04" font-size="5.4" font-weight="normal" text-anchor="middle" fill="#2a2a2a" >-1</text>
<text x="314.98" y="459.04" font-size="5.4" font-weight="normal" text-anchor="middle" fill="#2a2a2a" >0</text>
<text x="324.50" y="459.04" font-size="5.4" font-weight="normal" text-anchor="middle" fill="#2a2a2a" >1</text>
<text x="334.02" y="459.04" font-size="5.4" font-weight="normal" text-anchor="middle" fill="#2a2a2a" >2</text>
<text x="215.70" y="542.94" font-size="5.4" font-weight="normal" text-anchor="middle" fill="#2a2a2a" >-1.0</text>
<text x="236.20" y="542.94" font-size="5.4" font-weight="normal" text-anchor="middle" fill="#2a2a2a" >0.0</text>
<text x="257.20" y="542.94" font-size="5.4" font-weight="normal" text-anchor="middle" fill="#2a2a2a" >1.0</text>
<text x="0" y="0" font-size="5.4" text-anchor="middle" fill="#2a2a2a" transform="translate(344.30 480.30) rotate(-90) translate(0 1.94)">0.5</text>
<text x="0" y="0" font-size="5.4" text-anchor="middle" fill="#2a2a2a" transform="translate(344.30 496.80) rotate(-90) translate(0 1.94)">-1.0</text>
<text x="0" y="0" font-size="5.4" text-anchor="middle" fill="#2a2a2a" transform="translate(204.00 499.40) rotate(-90) translate(0 1.94)">2</text>
<text x="0" y="0" font-size="5.4" text-anchor="middle" fill="#2a2a2a" transform="translate(204.00 509.70) rotate(-90) translate(0 1.94)">0</text>
<text x="0" y="0" font-size="5.4" text-anchor="middle" fill="#2a2a2a" transform="translate(204.00 519.90) rotate(-90) translate(0 1.94)">-2</text>
<text x="0" y="0" font-size="5.4" text-anchor="middle" fill="#2a2a2a" transform="translate(204.00 530.20) rotate(-90) translate(0 1.94)">-4</text>
<text x="243.30" y="475.20" font-size="9.9" font-weight="normal" text-anchor="middle" fill="#000" stroke="#000" stroke-width="0.15" >SCF</text>
<text x="304.20" y="508.20" font-size="9.9" font-weight="normal" text-anchor="middle" fill="#000" stroke="#000" stroke-width="0.15" >IMF</text>
<text x="304.60" y="486.60" font-size="11.0" font-weight="normal" text-anchor="middle" fill="#111" stroke="#111" stroke-width="0.15" >0.16</text>
<rect x="386.40" y="494.90" width="6.30" height="3.00" fill="#d4d4d4" stroke="#555" stroke-width="0.5"/>
<rect x="392.70" y="497.30" width="6.30" height="0.60" fill="#d4d4d4" stroke="#555" stroke-width="0.5"/>
<rect x="399.00" y="492.10" width="6.20" height="5.80" fill="#d4d4d4" stroke="#555" stroke-width="0.5"/>
<rect x="405.20" y="467.60" width="6.30" height="30.30" fill="#d4d4d4" stroke="#555" stroke-width="0.5"/>
<rect x="411.50" y="474.50" width="6.30" height="23.40" fill="#d4d4d4" stroke="#555" stroke-width="0.5"/>
<rect x="417.80" y="487.10" width="6.90" height="10.80" fill="#d4d4d4" stroke="#555" stroke-width="0.5"/>
<rect x="424.70" y="494.60" width="6.20" height="3.30" fill="#d4d4d4" stroke="#555" stroke-width="0.5"/>
<rect x="430.90" y="496.50" width="6.30" height="1.40" fill="#d4d4d4" stroke="#555" stroke-width="0.5"/>
<rect x="437.20" y="496.50" width="6.30" height="1.40" fill="#d4d4d4" stroke="#555" stroke-width="0.5"/>
<path d="M402.00 497.30H420.00" stroke="#222" stroke-width="0.8"/>
<path d="M384.70 496.80 L389.50 495.60 L394.50 496.60 L399.60 494.00 L403.30 487.10 L405.80 474.50 L408.30 466.40 L411.50 467.00 L413.40 474.50 L416.50 482.00 L419.60 485.80 L424.70 490.90 L428.50 494.30 L432.20 495.60 L438.50 495.90 L443.50 496.90 L445.30 497.20" stroke="#ee4444" stroke-width="0.8" fill="none" stroke-linejoin="round"/>
<rect x="447.60" y="528.90" width="3.80" height="1.90" fill="#d4d4d4" stroke="#555" stroke-width="0.5"/>
<rect x="459.00" y="529.00" width="3.70" height="1.80" fill="#d4d4d4" stroke="#555" stroke-width="0.5"/>
<rect x="462.70" y="528.70" width="3.10" height="2.10" fill="#d4d4d4" stroke="#555" stroke-width="0.5"/>
<rect x="466.50" y="525.10" width="4.40" height="5.70" fill="#d4d4d4" stroke="#555" stroke-width="0.5"/>
<rect x="474.00" y="528.20" width="3.80" height="2.60" fill="#d4d4d4" stroke="#555" stroke-width="0.5"/>
<rect x="477.80" y="521.30" width="3.70" height="9.50" fill="#d4d4d4" stroke="#555" stroke-width="0.5"/>
<rect x="481.50" y="509.40" width="3.80" height="21.40" fill="#d4d4d4" stroke="#555" stroke-width="0.5"/>
<rect x="485.30" y="500.00" width="3.80" height="30.80" fill="#d4d4d4" stroke="#555" stroke-width="0.5"/>
<rect x="489.10" y="516.30" width="4.30" height="14.50" fill="#d4d4d4" stroke="#555" stroke-width="0.5"/>
<rect x="493.40" y="523.90" width="3.80" height="6.90" fill="#d4d4d4" stroke="#555" stroke-width="0.5"/>
<rect x="500.30" y="526.60" width="3.80" height="4.20" fill="#d4d4d4" stroke="#555" stroke-width="0.5"/>
<path d="M478.00 530.20H494.00" stroke="#222" stroke-width="0.8"/>
<path d="M446.40 529.10 L449.50 528.60 L454.50 530.10 L460.80 529.10 L464.60 528.60 L468.30 525.70 L472.10 528.20 L475.90 527.00 L479.60 520.10 L483.40 510.00 L486.50 503.80 L489.70 506.30 L493.40 517.00 L497.20 524.50 L501.00 528.60 L504.70 529.50 L506.30 530.00" stroke="#ee4444" stroke-width="0.8" fill="none" stroke-linejoin="round"/>
<circle cx="386.40" cy="501.00" r="1.3" fill="none" stroke="#222" stroke-width="0.6"/>
<circle cx="390.50" cy="520.70" r="1.3" fill="none" stroke="#222" stroke-width="0.6"/>
<circle cx="404.00" cy="503.50" r="1.3" fill="none" stroke="#222" stroke-width="0.6"/>
<circle cx="406.50" cy="519.50" r="1.3" fill="none" stroke="#222" stroke-width="0.6"/>
<circle cx="405.60" cy="530.40" r="1.3" fill="none" stroke="#222" stroke-width="0.6"/>
<circle cx="410.20" cy="516.30" r="1.3" fill="none" stroke="#222" stroke-width="0.6"/>
<circle cx="409.00" cy="504.40" r="1.3" fill="none" stroke="#222" stroke-width="0.6"/>
<circle cx="415.90" cy="500.60" r="1.3" fill="none" stroke="#222" stroke-width="0.6"/>
<circle cx="415.30" cy="512.60" r="1.3" fill="none" stroke="#222" stroke-width="0.6"/>
<circle cx="418.40" cy="506.30" r="1.3" fill="none" stroke="#222" stroke-width="0.6"/>
<circle cx="421.50" cy="506.90" r="1.3" fill="none" stroke="#222" stroke-width="0.6"/>
<circle cx="426.50" cy="506.30" r="1.3" fill="none" stroke="#222" stroke-width="0.6"/>
<circle cx="435.30" cy="505.30" r="1.3" fill="none" stroke="#222" stroke-width="0.6"/>
<circle cx="423.40" cy="512.60" r="1.3" fill="none" stroke="#222" stroke-width="0.6"/>
<circle cx="429.40" cy="514.40" r="1.3" fill="none" stroke="#222" stroke-width="0.6"/>
<circle cx="425.30" cy="518.20" r="1.3" fill="none" stroke="#222" stroke-width="0.6"/>
<circle cx="420.90" cy="524.10" r="1.3" fill="none" stroke="#222" stroke-width="0.6"/>
<circle cx="442.90" cy="520.10" r="1.3" fill="none" stroke="#222" stroke-width="0.6"/>
<circle cx="413.40" cy="513.80" r="1.3" fill="none" stroke="#222" stroke-width="0.6"/>
<circle cx="410.86" cy="511.50" r="1.3" fill="none" stroke="#222" stroke-width="0.6"/>
<circle cx="406.96" cy="511.09" r="1.3" fill="none" stroke="#222" stroke-width="0.6"/>
<circle cx="409.52" cy="509.08" r="1.3" fill="none" stroke="#222" stroke-width="0.6"/>
<circle cx="417.72" cy="509.75" r="1.3" fill="none" stroke="#222" stroke-width="0.6"/>
<circle cx="410.34" cy="510.67" r="1.3" fill="none" stroke="#222" stroke-width="0.6"/>
<circle cx="414.78" cy="509.45" r="1.3" fill="none" stroke="#222" stroke-width="0.6"/>
<circle cx="412.73" cy="507.94" r="1.3" fill="none" stroke="#222" stroke-width="0.6"/>
<circle cx="409.11" cy="508.80" r="1.3" fill="none" stroke="#222" stroke-width="0.6"/>
<circle cx="405.44" cy="507.09" r="1.3" fill="none" stroke="#222" stroke-width="0.6"/>
<circle cx="404.32" cy="509.12" r="1.3" fill="none" stroke="#222" stroke-width="0.6"/>
<circle cx="409.84" cy="508.99" r="1.3" fill="none" stroke="#222" stroke-width="0.6"/>
<circle cx="410.76" cy="507.36" r="1.3" fill="none" stroke="#222" stroke-width="0.6"/>
<circle cx="410.20" cy="509.88" r="1.3" fill="none" stroke="#222" stroke-width="0.6"/>
<circle cx="413.35" cy="508.15" r="1.3" fill="none" stroke="#222" stroke-width="0.6"/>
<circle cx="408.98" cy="506.28" r="1.3" fill="none" stroke="#222" stroke-width="0.6"/>
<circle cx="408.59" cy="505.99" r="1.3" fill="none" stroke="#222" stroke-width="0.6"/>
<circle cx="405.11" cy="511.26" r="1.3" fill="none" stroke="#222" stroke-width="0.6"/>
<circle cx="402.13" cy="510.78" r="1.3" fill="none" stroke="#222" stroke-width="0.6"/>
<circle cx="411.75" cy="509.00" r="1.3" fill="none" stroke="#222" stroke-width="0.6"/>
<circle cx="412.25" cy="510.34" r="1.3" fill="none" stroke="#222" stroke-width="0.6"/>
<circle cx="414.47" cy="509.13" r="1.3" fill="none" stroke="#222" stroke-width="0.6"/>
<circle cx="408.25" cy="508.53" r="1.3" fill="none" stroke="#222" stroke-width="0.6"/>
<circle cx="406.75" cy="509.43" r="1.3" fill="none" stroke="#222" stroke-width="0.6"/>
<circle cx="407.51" cy="511.21" r="1.3" fill="none" stroke="#222" stroke-width="0.6"/>
<circle cx="403.40" cy="507.75" r="1.3" fill="none" stroke="#222" stroke-width="0.6"/>
<circle cx="406.88" cy="506.15" r="1.3" fill="none" stroke="#222" stroke-width="0.6"/>
<circle cx="417.73" cy="505.65" r="1.3" fill="none" stroke="#222" stroke-width="0.6"/>
<circle cx="409.42" cy="508.66" r="1.3" fill="none" stroke="#222" stroke-width="0.6"/>
<circle cx="416.79" cy="506.32" r="1.3" fill="none" stroke="#222" stroke-width="0.6"/>
<circle cx="414.57" cy="508.33" r="1.3" fill="none" stroke="#222" stroke-width="0.6"/>
<circle cx="409.91" cy="508.43" r="1.3" fill="none" stroke="#222" stroke-width="0.6"/>
<circle cx="412.93" cy="507.68" r="1.3" fill="none" stroke="#222" stroke-width="0.6"/>
<circle cx="410.20" cy="510.07" r="1.3" fill="none" stroke="#222" stroke-width="0.6"/>
<circle cx="417.49" cy="505.65" r="1.3" fill="none" stroke="#222" stroke-width="0.6"/>
<circle cx="416.30" cy="511.02" r="1.3" fill="none" stroke="#222" stroke-width="0.6"/>
<circle cx="408.66" cy="509.99" r="1.3" fill="none" stroke="#222" stroke-width="0.6"/>
<circle cx="408.73" cy="512.13" r="1.3" fill="none" stroke="#222" stroke-width="0.6"/>
<circle cx="411.30" cy="509.16" r="1.3" fill="none" stroke="#222" stroke-width="0.6"/>
<circle cx="409.63" cy="509.18" r="1.3" fill="none" stroke="#222" stroke-width="0.6"/>
<circle cx="409.83" cy="508.09" r="1.3" fill="none" stroke="#222" stroke-width="0.6"/>
<path d="M386.40 501.30 L393.00 505.00 L399.60 508.80 L407.00 508.80 L414.60 508.80 L422.20 509.80 L424.70 510.70 L433.00 514.80 L442.90 519.50" stroke="#ee4444" stroke-width="0.8" fill="none"/>
<rect x="384.40" y="465.70" width="61.20" height="32.50" fill="none" stroke="#707070" stroke-width="1.0"/>
<rect x="445.60" y="465.70" width="61.00" height="32.50" fill="none" stroke="#707070" stroke-width="1.0"/>
<rect x="384.40" y="498.20" width="61.20" height="33.00" fill="none" stroke="#707070" stroke-width="1.0"/>
<rect x="445.60" y="498.20" width="61.00" height="33.00" fill="none" stroke="#707070" stroke-width="1.0"/>
<path d="M445.60 465.70V462.90M453.30 465.70V462.90M461.50 465.70V462.90M469.60 465.70V462.90M477.60 465.70V462.90M485.60 465.70V462.90M493.70 465.70V462.90M501.60 465.70V462.90M398.40 531.20V534.00M412.10 531.20V534.00M426.00 531.20V534.00M439.80 531.20V534.00M506.60 468.60H509.20M506.60 476.40H509.20M506.60 483.90H509.20M506.60 491.40H509.20M384.40 501.60H381.80M384.40 505.80H381.80M384.40 509.90H381.80M384.40 514.00H381.80M384.40 518.20H381.80M384.40 522.30H381.80M384.40 526.60H381.80M384.40 530.80H381.80" stroke="#555" stroke-width="0.5" fill="none"/>
<text x="445.60" y="459.24" font-size="5.4" font-weight="normal" text-anchor="middle" fill="#2a2a2a" >-5</text>
<text x="461.50" y="459.24" font-size="5.4" font-weight="normal" text-anchor="middle" fill="#2a2a2a" >-3</text>
<text x="477.60" y="459.24" font-size="5.4" font-weight="normal" text-anchor="middle" fill="#2a2a2a" >-1</text>
<text x="485.60" y="459.24" font-size="5.4" font-weight="normal" text-anchor="middle" fill="#2a2a2a" >0</text>
<text x="493.70" y="459.24" font-size="5.4" font-weight="normal" text-anchor="middle" fill="#2a2a2a" >1</text>
<text x="501.60" y="459.24" font-size="5.4" font-weight="normal" text-anchor="middle" fill="#2a2a2a" >2</text>
<text x="398.40" y="542.74" font-size="5.4" font-weight="normal" text-anchor="middle" fill="#2a2a2a" >-1</text>
<text x="412.10" y="542.74" font-size="5.4" font-weight="normal" text-anchor="middle" fill="#2a2a2a" >0</text>
<text x="426.00" y="542.74" font-size="5.4" font-weight="normal" text-anchor="middle" fill="#2a2a2a" >1</text>
<text x="439.80" y="542.74" font-size="5.4" font-weight="normal" text-anchor="middle" fill="#2a2a2a" >2</text>
<text x="0" y="0" font-size="5.4" text-anchor="middle" fill="#2a2a2a" transform="translate(516.00 468.60) rotate(-90) translate(0 1.94)">2</text>
<text x="0" y="0" font-size="5.4" text-anchor="middle" fill="#2a2a2a" transform="translate(516.00 476.40) rotate(-90) translate(0 1.94)">1</text>
<text x="0" y="0" font-size="5.4" text-anchor="middle" fill="#2a2a2a" transform="translate(516.00 491.40) rotate(-90) translate(0 1.94)">-1</text>
<text x="0" y="0" font-size="5.4" text-anchor="middle" fill="#2a2a2a" transform="translate(375.60 505.80) rotate(-90) translate(0 1.94)">1</text>
<text x="0" y="0" font-size="5.4" text-anchor="middle" fill="#2a2a2a" transform="translate(375.60 514.00) rotate(-90) translate(0 1.94)">-1</text>
<text x="0" y="0" font-size="5.4" text-anchor="middle" fill="#2a2a2a" transform="translate(375.60 522.30) rotate(-90) translate(0 1.94)">-3</text>
<text x="0" y="0" font-size="5.4" text-anchor="middle" fill="#2a2a2a" transform="translate(375.60 530.80) rotate(-90) translate(0 1.94)">-5</text>
<text x="414.90" y="475.20" font-size="9.9" font-weight="normal" text-anchor="middle" fill="#000" stroke="#000" stroke-width="0.15" >SCF</text>
<text x="476.00" y="508.20" font-size="9.9" font-weight="normal" text-anchor="middle" fill="#000" stroke="#000" stroke-width="0.15" >IMF</text>
<text x="476.50" y="485.40" font-size="8.2" font-weight="normal" text-anchor="middle" fill="#111" stroke="#111" stroke-width="0.15" >-0.10</text>
<text x="87.80" y="441.00" font-size="10.3" font-weight="bold" text-anchor="middle" fill="#000" >Adipogenesis-related genes</text>
<text x="86.80" y="453.50" font-size="10.3" font-weight="bold" text-anchor="middle" fill="#000" >Correlation</text>
<text x="276.00" y="436.70" font-size="10.3" font-weight="bold" text-anchor="middle" fill="#000" >Fatty acid metabolism</text>
<text x="275.80" y="448.90" font-size="10.3" font-weight="bold" text-anchor="middle" fill="#000" >related genes correlation</text>
<text x="448.60" y="436.70" font-size="10.3" font-weight="bold" text-anchor="middle" fill="#000" >Adipogenesis-regulators</text>
<text x="447.40" y="448.70" font-size="10.3" font-weight="bold" text-anchor="middle" fill="#000" >Correlation</text>
</svg></body></html>
